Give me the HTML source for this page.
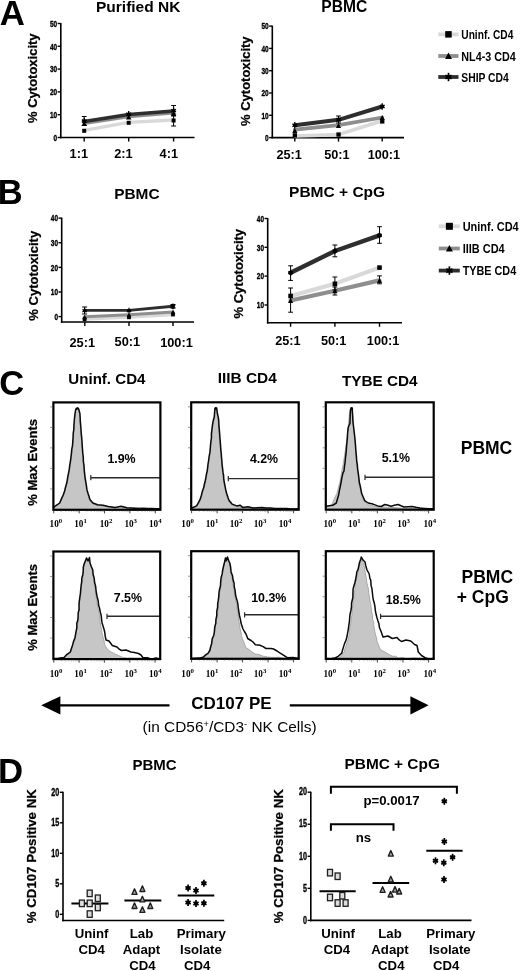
<!DOCTYPE html>
<html><head><meta charset="utf-8"><title>Figure</title>
<style>html,body{margin:0;padding:0;background:#fff;}svg{display:block;filter:grayscale(1);}</style></head>
<body>
<svg width="520" height="971" viewBox="0 0 520 971">
<rect x="0" y="0" width="520" height="971" fill="#ffffff"/>
<text x="-0.3" y="25.4" font-family='"Liberation Sans", sans-serif' font-size="34.8" font-weight="bold" text-anchor="start" fill="#000" >A</text>
<text x="138.2" y="12.1" font-family='"Liberation Sans", sans-serif' font-size="15.5" font-weight="bold" text-anchor="middle" fill="#000" >Purified NK</text>
<text transform="translate(36.7,78.2) rotate(-90)" x="0" y="0" font-family='"Liberation Sans", sans-serif' font-size="13" font-weight="bold" text-anchor="middle" fill="#000" stroke="#000" stroke-width="0.25">% Cytotoxicity</text>
<line x1="60.8" y1="23.0" x2="60.8" y2="138.25" stroke="#000" stroke-width="1.6" stroke-linecap="butt"/>
<line x1="60.0" y1="137.5" x2="194.5" y2="137.5" stroke="#000" stroke-width="1.6" stroke-linecap="butt"/>
<line x1="57.599999999999994" y1="137.5" x2="60.8" y2="137.5" stroke="#000" stroke-width="1.4" stroke-linecap="butt"/>
<text x="57.099999999999994" y="140.7" font-family='"Liberation Sans", sans-serif' font-size="9" font-weight="bold" text-anchor="end" fill="#000" textLength="3.6" lengthAdjust="spacingAndGlyphs" stroke="#000" stroke-width="0.35">0</text>
<line x1="57.599999999999994" y1="114.7" x2="60.8" y2="114.7" stroke="#000" stroke-width="1.4" stroke-linecap="butt"/>
<text x="57.099999999999994" y="117.9" font-family='"Liberation Sans", sans-serif' font-size="9" font-weight="bold" text-anchor="end" fill="#000" textLength="7.2" lengthAdjust="spacingAndGlyphs" stroke="#000" stroke-width="0.35">10</text>
<line x1="57.599999999999994" y1="91.9" x2="60.8" y2="91.9" stroke="#000" stroke-width="1.4" stroke-linecap="butt"/>
<text x="57.099999999999994" y="95.10000000000001" font-family='"Liberation Sans", sans-serif' font-size="9" font-weight="bold" text-anchor="end" fill="#000" textLength="7.2" lengthAdjust="spacingAndGlyphs" stroke="#000" stroke-width="0.35">20</text>
<line x1="57.599999999999994" y1="69.1" x2="60.8" y2="69.1" stroke="#000" stroke-width="1.4" stroke-linecap="butt"/>
<text x="57.099999999999994" y="72.3" font-family='"Liberation Sans", sans-serif' font-size="9" font-weight="bold" text-anchor="end" fill="#000" textLength="7.2" lengthAdjust="spacingAndGlyphs" stroke="#000" stroke-width="0.35">30</text>
<line x1="57.599999999999994" y1="46.3" x2="60.8" y2="46.3" stroke="#000" stroke-width="1.4" stroke-linecap="butt"/>
<text x="57.099999999999994" y="49.5" font-family='"Liberation Sans", sans-serif' font-size="9" font-weight="bold" text-anchor="end" fill="#000" textLength="7.2" lengthAdjust="spacingAndGlyphs" stroke="#000" stroke-width="0.35">40</text>
<line x1="57.599999999999994" y1="23.5" x2="60.8" y2="23.5" stroke="#000" stroke-width="1.4" stroke-linecap="butt"/>
<text x="57.099999999999994" y="26.7" font-family='"Liberation Sans", sans-serif' font-size="9" font-weight="bold" text-anchor="end" fill="#000" textLength="7.2" lengthAdjust="spacingAndGlyphs" stroke="#000" stroke-width="0.35">50</text>
<line x1="84.2" y1="137.5" x2="84.2" y2="141.5" stroke="#000" stroke-width="1.4" stroke-linecap="butt"/>
<text x="78.8" y="157.5" font-family='"Liberation Sans", sans-serif' font-size="12.8" font-weight="bold" text-anchor="middle" fill="#000" >1:1</text>
<line x1="128.7" y1="137.5" x2="128.7" y2="141.5" stroke="#000" stroke-width="1.4" stroke-linecap="butt"/>
<text x="123.4" y="157.5" font-family='"Liberation Sans", sans-serif' font-size="12.8" font-weight="bold" text-anchor="middle" fill="#000" >2:1</text>
<line x1="173.6" y1="137.5" x2="173.6" y2="141.5" stroke="#000" stroke-width="1.4" stroke-linecap="butt"/>
<text x="168.8" y="157.5" font-family='"Liberation Sans", sans-serif' font-size="12.8" font-weight="bold" text-anchor="middle" fill="#000" >4:1</text>
<polyline points="84.2,130.3 128.7,122.3 173.6,120.0" fill="none" stroke="#d9d9d9" stroke-width="3.3" stroke-linejoin="round" stroke-linecap="round"/>
<polyline points="84.2,123.2 128.7,116.6 173.6,112.9" fill="none" stroke="#8e8e8e" stroke-width="3.4" stroke-linejoin="round" stroke-linecap="round"/>
<polyline points="84.2,121.4 128.7,114.6 173.6,111.0" fill="none" stroke="#2e2e2e" stroke-width="3.5" stroke-linejoin="round" stroke-linecap="round"/>
<line x1="84.2" y1="116.5" x2="84.2" y2="125.5" stroke="#000" stroke-width="1" stroke-linecap="butt"/>
<line x1="81.8" y1="116.5" x2="86.60000000000001" y2="116.5" stroke="#000" stroke-width="1" stroke-linecap="butt"/>
<line x1="81.8" y1="125.5" x2="86.60000000000001" y2="125.5" stroke="#000" stroke-width="1" stroke-linecap="butt"/>
<line x1="173.6" y1="105.5" x2="173.6" y2="116" stroke="#000" stroke-width="1" stroke-linecap="butt"/>
<line x1="171.2" y1="105.5" x2="176.0" y2="105.5" stroke="#000" stroke-width="1" stroke-linecap="butt"/>
<line x1="171.2" y1="116" x2="176.0" y2="116" stroke="#000" stroke-width="1" stroke-linecap="butt"/>
<line x1="173.6" y1="114" x2="173.6" y2="126" stroke="#000" stroke-width="1" stroke-linecap="butt"/>
<line x1="171.1" y1="114" x2="176.1" y2="114" stroke="#000" stroke-width="1" stroke-linecap="butt"/>
<line x1="171.1" y1="126" x2="176.1" y2="126" stroke="#000" stroke-width="1" stroke-linecap="butt"/>
<rect x="82.2" y="128.8" width="4.0" height="4.0" fill="#000" stroke="none" stroke-width="0"/>
<rect x="126.7" y="120.8" width="4.0" height="4.0" fill="#000" stroke="none" stroke-width="0"/>
<rect x="171.6" y="118.5" width="4.0" height="4.0" fill="#000" stroke="none" stroke-width="0"/>
<polygon points="84.2,120.9 87.0,126.1 81.5,126.1" fill="#000" stroke="none" stroke-width="0" stroke-linejoin="miter"/>
<polygon points="128.7,114.4 131.4,119.6 125.9,119.6" fill="#000" stroke="none" stroke-width="0" stroke-linejoin="miter"/>
<polygon points="173.6,110.9 176.3,116.1 170.8,116.1" fill="#000" stroke="none" stroke-width="0" stroke-linejoin="miter"/>
<circle cx="84.2" cy="121.0" r="1.6" fill="#000"/>
<line x1="84.2" y1="117.7" x2="84.2" y2="124.3" stroke="#000" stroke-width="1.3" stroke-linecap="butt"/>
<line x1="81.8" y1="119.6" x2="86.6" y2="122.4" stroke="#000" stroke-width="1.3" stroke-linecap="butt"/>
<line x1="86.6" y1="119.6" x2="81.8" y2="122.4" stroke="#000" stroke-width="1.3" stroke-linecap="butt"/>
<circle cx="128.7" cy="114.2" r="1.6" fill="#000"/>
<line x1="128.7" y1="110.9" x2="128.7" y2="117.5" stroke="#000" stroke-width="1.3" stroke-linecap="butt"/>
<line x1="126.3" y1="112.8" x2="131.1" y2="115.6" stroke="#000" stroke-width="1.3" stroke-linecap="butt"/>
<line x1="131.1" y1="112.8" x2="126.3" y2="115.6" stroke="#000" stroke-width="1.3" stroke-linecap="butt"/>
<circle cx="173.6" cy="110.6" r="1.6" fill="#000"/>
<line x1="173.6" y1="107.3" x2="173.6" y2="113.9" stroke="#000" stroke-width="1.3" stroke-linecap="butt"/>
<line x1="171.2" y1="109.2" x2="176.0" y2="112.0" stroke="#000" stroke-width="1.3" stroke-linecap="butt"/>
<line x1="176.0" y1="109.2" x2="171.2" y2="112.0" stroke="#000" stroke-width="1.3" stroke-linecap="butt"/>
<text x="344.3" y="12.1" font-family='"Liberation Sans", sans-serif' font-size="15.6" font-weight="bold" text-anchor="middle" fill="#000" >PBMC</text>
<text transform="translate(250.4,81.2) rotate(-90)" x="0" y="0" font-family='"Liberation Sans", sans-serif' font-size="13" font-weight="bold" text-anchor="middle" fill="#000" stroke="#000" stroke-width="0.25">% Cytotoxicity</text>
<line x1="272.3" y1="25.599999999999994" x2="272.3" y2="138.35" stroke="#000" stroke-width="1.6" stroke-linecap="butt"/>
<line x1="271.5" y1="137.6" x2="404" y2="137.6" stroke="#000" stroke-width="1.6" stroke-linecap="butt"/>
<line x1="269.1" y1="137.6" x2="272.3" y2="137.6" stroke="#000" stroke-width="1.4" stroke-linecap="butt"/>
<text x="268.6" y="140.79999999999998" font-family='"Liberation Sans", sans-serif' font-size="9" font-weight="bold" text-anchor="end" fill="#000" textLength="3.6" lengthAdjust="spacingAndGlyphs" stroke="#000" stroke-width="0.35">0</text>
<line x1="269.1" y1="115.3" x2="272.3" y2="115.3" stroke="#000" stroke-width="1.4" stroke-linecap="butt"/>
<text x="268.6" y="118.5" font-family='"Liberation Sans", sans-serif' font-size="9" font-weight="bold" text-anchor="end" fill="#000" textLength="7.2" lengthAdjust="spacingAndGlyphs" stroke="#000" stroke-width="0.35">10</text>
<line x1="269.1" y1="93.0" x2="272.3" y2="93.0" stroke="#000" stroke-width="1.4" stroke-linecap="butt"/>
<text x="268.6" y="96.2" font-family='"Liberation Sans", sans-serif' font-size="9" font-weight="bold" text-anchor="end" fill="#000" textLength="7.2" lengthAdjust="spacingAndGlyphs" stroke="#000" stroke-width="0.35">20</text>
<line x1="269.1" y1="70.69999999999999" x2="272.3" y2="70.69999999999999" stroke="#000" stroke-width="1.4" stroke-linecap="butt"/>
<text x="268.6" y="73.89999999999999" font-family='"Liberation Sans", sans-serif' font-size="9" font-weight="bold" text-anchor="end" fill="#000" textLength="7.2" lengthAdjust="spacingAndGlyphs" stroke="#000" stroke-width="0.35">30</text>
<line x1="269.1" y1="48.39999999999999" x2="272.3" y2="48.39999999999999" stroke="#000" stroke-width="1.4" stroke-linecap="butt"/>
<text x="268.6" y="51.599999999999994" font-family='"Liberation Sans", sans-serif' font-size="9" font-weight="bold" text-anchor="end" fill="#000" textLength="7.2" lengthAdjust="spacingAndGlyphs" stroke="#000" stroke-width="0.35">40</text>
<line x1="269.1" y1="26.099999999999994" x2="272.3" y2="26.099999999999994" stroke="#000" stroke-width="1.4" stroke-linecap="butt"/>
<text x="268.6" y="29.299999999999994" font-family='"Liberation Sans", sans-serif' font-size="9" font-weight="bold" text-anchor="end" fill="#000" textLength="7.2" lengthAdjust="spacingAndGlyphs" stroke="#000" stroke-width="0.35">50</text>
<line x1="294.8" y1="137.6" x2="294.8" y2="141.6" stroke="#000" stroke-width="1.4" stroke-linecap="butt"/>
<text x="289.2" y="158.5" font-family='"Liberation Sans", sans-serif' font-size="12.7" font-weight="bold" text-anchor="middle" fill="#000" >25:1</text>
<line x1="338.5" y1="137.6" x2="338.5" y2="141.6" stroke="#000" stroke-width="1.4" stroke-linecap="butt"/>
<text x="336.9" y="158.5" font-family='"Liberation Sans", sans-serif' font-size="12.7" font-weight="bold" text-anchor="middle" fill="#000" >50:1</text>
<line x1="382.2" y1="137.6" x2="382.2" y2="141.6" stroke="#000" stroke-width="1.4" stroke-linecap="butt"/>
<text x="383.9" y="158.5" font-family='"Liberation Sans", sans-serif' font-size="12.7" font-weight="bold" text-anchor="middle" fill="#000" >100:1</text>
<polyline points="294.8,136.0 338.5,134.6 382.2,120.8" fill="none" stroke="#d9d9d9" stroke-width="3.6" stroke-linejoin="round" stroke-linecap="round"/>
<polyline points="294.8,129.6 338.5,125.2 382.2,117.5" fill="none" stroke="#8e8e8e" stroke-width="3.8" stroke-linejoin="round" stroke-linecap="round"/>
<polyline points="294.8,125.3 338.5,119.8 382.2,106.5" fill="none" stroke="#2e2e2e" stroke-width="4" stroke-linejoin="round" stroke-linecap="round"/>
<line x1="338.5" y1="116" x2="338.5" y2="123" stroke="#000" stroke-width="1" stroke-linecap="butt"/>
<line x1="336.1" y1="116" x2="340.9" y2="116" stroke="#000" stroke-width="1" stroke-linecap="butt"/>
<line x1="336.1" y1="123" x2="340.9" y2="123" stroke="#000" stroke-width="1" stroke-linecap="butt"/>
<rect x="292.7" y="133.2" width="4.3" height="4.3" fill="#000" stroke="none" stroke-width="0"/>
<rect x="336.4" y="132.4" width="4.3" height="4.3" fill="#000" stroke="none" stroke-width="0"/>
<rect x="380.1" y="119.3" width="4.3" height="4.3" fill="#000" stroke="none" stroke-width="0"/>
<polygon points="294.8,128.0 297.4,133.0 292.2,133.0" fill="#000" stroke="none" stroke-width="0" stroke-linejoin="miter"/>
<polygon points="338.5,123.0 341.1,128.0 335.9,128.0" fill="#000" stroke="none" stroke-width="0" stroke-linejoin="miter"/>
<polygon points="382.2,115.0 384.8,120.0 379.6,120.0" fill="#000" stroke="none" stroke-width="0" stroke-linejoin="miter"/>
<circle cx="294.8" cy="125.3" r="1.6" fill="#000"/>
<line x1="294.8" y1="122.0" x2="294.8" y2="128.6" stroke="#000" stroke-width="1.3" stroke-linecap="butt"/>
<line x1="292.4" y1="123.9" x2="297.2" y2="126.7" stroke="#000" stroke-width="1.3" stroke-linecap="butt"/>
<line x1="297.2" y1="123.9" x2="292.4" y2="126.7" stroke="#000" stroke-width="1.3" stroke-linecap="butt"/>
<circle cx="338.5" cy="119.8" r="1.6" fill="#000"/>
<line x1="338.5" y1="116.5" x2="338.5" y2="123.1" stroke="#000" stroke-width="1.3" stroke-linecap="butt"/>
<line x1="336.1" y1="118.4" x2="340.9" y2="121.2" stroke="#000" stroke-width="1.3" stroke-linecap="butt"/>
<line x1="340.9" y1="118.4" x2="336.1" y2="121.2" stroke="#000" stroke-width="1.3" stroke-linecap="butt"/>
<circle cx="382.2" cy="106.5" r="1.6" fill="#000"/>
<line x1="382.2" y1="103.2" x2="382.2" y2="109.8" stroke="#000" stroke-width="1.3" stroke-linecap="butt"/>
<line x1="379.8" y1="105.1" x2="384.6" y2="107.9" stroke="#000" stroke-width="1.3" stroke-linecap="butt"/>
<line x1="384.6" y1="105.1" x2="379.8" y2="107.9" stroke="#000" stroke-width="1.3" stroke-linecap="butt"/>
<line x1="438.3" y1="34.4" x2="458.5" y2="34.4" stroke="#d9d9d9" stroke-width="3.8" stroke-linecap="butt"/>
<rect x="445.2" y="31.1" width="6.5" height="6.5" fill="#000" stroke="none" stroke-width="0"/>
<text x="461.3" y="39.4" font-family='"Liberation Sans", sans-serif' font-size="12" font-weight="bold" text-anchor="start" fill="#000" textLength="52" lengthAdjust="spacingAndGlyphs" >Uninf. CD4</text>
<line x1="438.3" y1="56" x2="458.5" y2="56" stroke="#8e8e8e" stroke-width="3.8" stroke-linecap="butt"/>
<polygon points="448.5,52.4 452.0,59.0 445.0,59.0" fill="#000" stroke="none" stroke-width="0" stroke-linejoin="miter"/>
<text x="461.3" y="61" font-family='"Liberation Sans", sans-serif' font-size="12" font-weight="bold" text-anchor="start" fill="#000" textLength="54.5" lengthAdjust="spacingAndGlyphs" >NL4-3 CD4</text>
<line x1="438.3" y1="77" x2="458.5" y2="77" stroke="#2e2e2e" stroke-width="3.8" stroke-linecap="butt"/>
<circle cx="448.5" cy="77.0" r="2.2" fill="#000"/>
<line x1="448.5" y1="72.8" x2="448.5" y2="81.2" stroke="#000" stroke-width="1.7" stroke-linecap="butt"/>
<line x1="445.4" y1="75.2" x2="451.6" y2="78.8" stroke="#000" stroke-width="1.7" stroke-linecap="butt"/>
<line x1="451.6" y1="75.2" x2="445.4" y2="78.8" stroke="#000" stroke-width="1.7" stroke-linecap="butt"/>
<text x="461.3" y="81.7" font-family='"Liberation Sans", sans-serif' font-size="12" font-weight="bold" text-anchor="start" fill="#000" textLength="47.5" lengthAdjust="spacingAndGlyphs" >SHIP CD4</text>
<text x="-2.2" y="204.4" font-family='"Liberation Sans", sans-serif' font-size="34.5" font-weight="bold" text-anchor="start" fill="#000" >B</text>
<text x="136.9" y="199.3" font-family='"Liberation Sans", sans-serif' font-size="15.4" font-weight="bold" text-anchor="middle" fill="#000" >PBMC</text>
<text transform="translate(38,275.8) rotate(-90)" x="0" y="0" font-family='"Liberation Sans", sans-serif' font-size="13.05" font-weight="bold" text-anchor="middle" fill="#000" stroke="#000" stroke-width="0.25">% Cytotoxicity</text>
<line x1="61.7" y1="217.62" x2="61.7" y2="322.75" stroke="#000" stroke-width="1.6" stroke-linecap="butt"/>
<line x1="60.900000000000006" y1="322" x2="194" y2="322" stroke="#000" stroke-width="1.6" stroke-linecap="butt"/>
<line x1="58.5" y1="316.6" x2="61.7" y2="316.6" stroke="#000" stroke-width="1.4" stroke-linecap="butt"/>
<text x="58.0" y="319.8" font-family='"Liberation Sans", sans-serif' font-size="9" font-weight="bold" text-anchor="end" fill="#000" textLength="3.6" lengthAdjust="spacingAndGlyphs" stroke="#000" stroke-width="0.35">0</text>
<line x1="58.5" y1="291.98" x2="61.7" y2="291.98" stroke="#000" stroke-width="1.4" stroke-linecap="butt"/>
<text x="58.0" y="295.18" font-family='"Liberation Sans", sans-serif' font-size="9" font-weight="bold" text-anchor="end" fill="#000" textLength="7.2" lengthAdjust="spacingAndGlyphs" stroke="#000" stroke-width="0.35">10</text>
<line x1="58.5" y1="267.36" x2="61.7" y2="267.36" stroke="#000" stroke-width="1.4" stroke-linecap="butt"/>
<text x="58.0" y="270.56" font-family='"Liberation Sans", sans-serif' font-size="9" font-weight="bold" text-anchor="end" fill="#000" textLength="7.2" lengthAdjust="spacingAndGlyphs" stroke="#000" stroke-width="0.35">20</text>
<line x1="58.5" y1="242.74" x2="61.7" y2="242.74" stroke="#000" stroke-width="1.4" stroke-linecap="butt"/>
<text x="58.0" y="245.94" font-family='"Liberation Sans", sans-serif' font-size="9" font-weight="bold" text-anchor="end" fill="#000" textLength="7.2" lengthAdjust="spacingAndGlyphs" stroke="#000" stroke-width="0.35">30</text>
<line x1="58.5" y1="218.12" x2="61.7" y2="218.12" stroke="#000" stroke-width="1.4" stroke-linecap="butt"/>
<text x="58.0" y="221.32" font-family='"Liberation Sans", sans-serif' font-size="9" font-weight="bold" text-anchor="end" fill="#000" textLength="7.2" lengthAdjust="spacingAndGlyphs" stroke="#000" stroke-width="0.35">40</text>
<line x1="84.8" y1="322" x2="84.8" y2="326" stroke="#000" stroke-width="1.4" stroke-linecap="butt"/>
<text x="82.3" y="346.6" font-family='"Liberation Sans", sans-serif' font-size="12.8" font-weight="bold" text-anchor="middle" fill="#000" >25:1</text>
<line x1="129" y1="322" x2="129" y2="326" stroke="#000" stroke-width="1.4" stroke-linecap="butt"/>
<text x="127.4" y="346.0" font-family='"Liberation Sans", sans-serif' font-size="12.8" font-weight="bold" text-anchor="middle" fill="#000" >50:1</text>
<line x1="173" y1="322" x2="173" y2="326" stroke="#000" stroke-width="1.4" stroke-linecap="butt"/>
<text x="176.5" y="346.6" font-family='"Liberation Sans", sans-serif' font-size="12.8" font-weight="bold" text-anchor="middle" fill="#000" >100:1</text>
<polyline points="84.6,319.0 129.0,317.0 173.0,314.5" fill="none" stroke="#d9d9d9" stroke-width="3.5" stroke-linejoin="round" stroke-linecap="round"/>
<polyline points="84.6,316.8 129.0,314.8 173.0,312.0" fill="none" stroke="#8e8e8e" stroke-width="3" stroke-linejoin="round" stroke-linecap="round"/>
<polyline points="84.6,310.4 129.0,310.4 173.0,306.2" fill="none" stroke="#2e2e2e" stroke-width="2.9" stroke-linejoin="round" stroke-linecap="round"/>
<line x1="84.6" y1="307" x2="84.6" y2="314" stroke="#000" stroke-width="1" stroke-linecap="butt"/>
<line x1="82.1" y1="307" x2="87.1" y2="307" stroke="#000" stroke-width="1" stroke-linecap="butt"/>
<line x1="82.1" y1="314" x2="87.1" y2="314" stroke="#000" stroke-width="1" stroke-linecap="butt"/>
<line x1="173" y1="304.5" x2="173" y2="308.2" stroke="#000" stroke-width="1" stroke-linecap="butt"/>
<line x1="170.5" y1="304.5" x2="175.5" y2="304.5" stroke="#000" stroke-width="1" stroke-linecap="butt"/>
<line x1="170.5" y1="308.2" x2="175.5" y2="308.2" stroke="#000" stroke-width="1" stroke-linecap="butt"/>
<rect x="82.7" y="317.4" width="3.8" height="3.8" fill="#000" stroke="none" stroke-width="0"/>
<rect x="127.1" y="315.4" width="3.8" height="3.8" fill="#000" stroke="none" stroke-width="0"/>
<rect x="171.1" y="312.6" width="3.8" height="3.8" fill="#000" stroke="none" stroke-width="0"/>
<polygon points="84.6,314.7 87.0,319.3 82.2,319.3" fill="#000" stroke="none" stroke-width="0" stroke-linejoin="miter"/>
<polygon points="129.0,312.7 131.4,317.3 126.6,317.3" fill="#000" stroke="none" stroke-width="0" stroke-linejoin="miter"/>
<polygon points="173.0,309.7 175.4,314.3 170.6,314.3" fill="#000" stroke="none" stroke-width="0" stroke-linejoin="miter"/>
<circle cx="84.6" cy="310.6" r="1.5" fill="#000"/>
<line x1="84.6" y1="307.7" x2="84.6" y2="313.6" stroke="#000" stroke-width="1.2" stroke-linecap="butt"/>
<line x1="82.4" y1="309.4" x2="86.8" y2="311.9" stroke="#000" stroke-width="1.2" stroke-linecap="butt"/>
<line x1="86.8" y1="309.4" x2="82.4" y2="311.9" stroke="#000" stroke-width="1.2" stroke-linecap="butt"/>
<circle cx="129.0" cy="310.6" r="1.5" fill="#000"/>
<line x1="129.0" y1="307.7" x2="129.0" y2="313.6" stroke="#000" stroke-width="1.2" stroke-linecap="butt"/>
<line x1="126.8" y1="309.4" x2="131.2" y2="311.9" stroke="#000" stroke-width="1.2" stroke-linecap="butt"/>
<line x1="131.2" y1="309.4" x2="126.8" y2="311.9" stroke="#000" stroke-width="1.2" stroke-linecap="butt"/>
<circle cx="173.0" cy="306.3" r="1.5" fill="#000"/>
<line x1="173.0" y1="303.4" x2="173.0" y2="309.2" stroke="#000" stroke-width="1.2" stroke-linecap="butt"/>
<line x1="170.8" y1="305.1" x2="175.2" y2="307.6" stroke="#000" stroke-width="1.2" stroke-linecap="butt"/>
<line x1="175.2" y1="305.1" x2="170.8" y2="307.6" stroke="#000" stroke-width="1.2" stroke-linecap="butt"/>
<text x="337.1" y="197.0" font-family='"Liberation Sans", sans-serif' font-size="15.5" font-weight="bold" text-anchor="middle" fill="#000" >PBMC + CpG</text>
<text transform="translate(243.3,273.7) rotate(-90)" x="0" y="0" font-family='"Liberation Sans", sans-serif' font-size="13.0" font-weight="bold" text-anchor="middle" fill="#000" stroke="#000" stroke-width="0.25">% Cytotoxicity</text>
<line x1="267.7" y1="218.0" x2="267.7" y2="323.55" stroke="#000" stroke-width="1.6" stroke-linecap="butt"/>
<line x1="266.9" y1="322.8" x2="402" y2="322.8" stroke="#000" stroke-width="1.6" stroke-linecap="butt"/>
<line x1="264.5" y1="305" x2="267.7" y2="305" stroke="#000" stroke-width="1.4" stroke-linecap="butt"/>
<text x="264.0" y="308.2" font-family='"Liberation Sans", sans-serif' font-size="9" font-weight="bold" text-anchor="end" fill="#000" textLength="7.2" lengthAdjust="spacingAndGlyphs" stroke="#000" stroke-width="0.35">10</text>
<line x1="264.5" y1="276.1" x2="267.7" y2="276.1" stroke="#000" stroke-width="1.4" stroke-linecap="butt"/>
<text x="264.0" y="279.3" font-family='"Liberation Sans", sans-serif' font-size="9" font-weight="bold" text-anchor="end" fill="#000" textLength="7.2" lengthAdjust="spacingAndGlyphs" stroke="#000" stroke-width="0.35">20</text>
<line x1="264.5" y1="247.3" x2="267.7" y2="247.3" stroke="#000" stroke-width="1.4" stroke-linecap="butt"/>
<text x="264.0" y="250.5" font-family='"Liberation Sans", sans-serif' font-size="9" font-weight="bold" text-anchor="end" fill="#000" textLength="7.2" lengthAdjust="spacingAndGlyphs" stroke="#000" stroke-width="0.35">30</text>
<line x1="264.5" y1="218.5" x2="267.7" y2="218.5" stroke="#000" stroke-width="1.4" stroke-linecap="butt"/>
<text x="264.0" y="221.7" font-family='"Liberation Sans", sans-serif' font-size="9" font-weight="bold" text-anchor="end" fill="#000" textLength="7.2" lengthAdjust="spacingAndGlyphs" stroke="#000" stroke-width="0.35">40</text>
<line x1="290.6" y1="322.8" x2="290.6" y2="326.8" stroke="#000" stroke-width="1.4" stroke-linecap="butt"/>
<text x="287.9" y="345.4" font-family='"Liberation Sans", sans-serif' font-size="12.7" font-weight="bold" text-anchor="middle" fill="#000" >25:1</text>
<line x1="334.9" y1="322.8" x2="334.9" y2="326.8" stroke="#000" stroke-width="1.4" stroke-linecap="butt"/>
<text x="333.7" y="345.4" font-family='"Liberation Sans", sans-serif' font-size="12.7" font-weight="bold" text-anchor="middle" fill="#000" >50:1</text>
<line x1="379.5" y1="322.8" x2="379.5" y2="326.8" stroke="#000" stroke-width="1.4" stroke-linecap="butt"/>
<text x="383.1" y="345.4" font-family='"Liberation Sans", sans-serif' font-size="12.7" font-weight="bold" text-anchor="middle" fill="#000" >100:1</text>
<polyline points="290.6,296.0 334.9,283.8 379.5,267.6" fill="none" stroke="#d9d9d9" stroke-width="4.2" stroke-linejoin="round" stroke-linecap="round"/>
<polyline points="290.6,300.5 334.9,290.8 379.5,280.4" fill="none" stroke="#8e8e8e" stroke-width="4.2" stroke-linejoin="round" stroke-linecap="round"/>
<polyline points="290.6,272.8 334.9,251.0 379.5,235.4" fill="none" stroke="#2e2e2e" stroke-width="4.4" stroke-linejoin="round" stroke-linecap="round"/>
<line x1="290.6" y1="265.8" x2="290.6" y2="280.4" stroke="#000" stroke-width="1" stroke-linecap="butt"/>
<line x1="288.20000000000005" y1="265.8" x2="293.0" y2="265.8" stroke="#000" stroke-width="1" stroke-linecap="butt"/>
<line x1="288.20000000000005" y1="280.4" x2="293.0" y2="280.4" stroke="#000" stroke-width="1" stroke-linecap="butt"/>
<line x1="334.9" y1="245" x2="334.9" y2="256.8" stroke="#000" stroke-width="1" stroke-linecap="butt"/>
<line x1="332.5" y1="245" x2="337.29999999999995" y2="245" stroke="#000" stroke-width="1" stroke-linecap="butt"/>
<line x1="332.5" y1="256.8" x2="337.29999999999995" y2="256.8" stroke="#000" stroke-width="1" stroke-linecap="butt"/>
<line x1="379.5" y1="226.7" x2="379.5" y2="243.3" stroke="#000" stroke-width="1" stroke-linecap="butt"/>
<line x1="377.1" y1="226.7" x2="381.9" y2="226.7" stroke="#000" stroke-width="1" stroke-linecap="butt"/>
<line x1="377.1" y1="243.3" x2="381.9" y2="243.3" stroke="#000" stroke-width="1" stroke-linecap="butt"/>
<line x1="334.9" y1="277" x2="334.9" y2="290" stroke="#000" stroke-width="1" stroke-linecap="butt"/>
<line x1="332.5" y1="277" x2="337.29999999999995" y2="277" stroke="#000" stroke-width="1" stroke-linecap="butt"/>
<line x1="332.5" y1="290" x2="337.29999999999995" y2="290" stroke="#000" stroke-width="1" stroke-linecap="butt"/>
<line x1="290.6" y1="288" x2="290.6" y2="312.2" stroke="#000" stroke-width="1" stroke-linecap="butt"/>
<line x1="288.20000000000005" y1="288" x2="293.0" y2="288" stroke="#000" stroke-width="1" stroke-linecap="butt"/>
<line x1="288.20000000000005" y1="312.2" x2="293.0" y2="312.2" stroke="#000" stroke-width="1" stroke-linecap="butt"/>
<line x1="334.9" y1="287" x2="334.9" y2="295" stroke="#000" stroke-width="1" stroke-linecap="butt"/>
<line x1="332.5" y1="287" x2="337.29999999999995" y2="287" stroke="#000" stroke-width="1" stroke-linecap="butt"/>
<line x1="332.5" y1="295" x2="337.29999999999995" y2="295" stroke="#000" stroke-width="1" stroke-linecap="butt"/>
<line x1="379.5" y1="275.9" x2="379.5" y2="283.8" stroke="#000" stroke-width="1" stroke-linecap="butt"/>
<line x1="377.1" y1="275.9" x2="381.9" y2="275.9" stroke="#000" stroke-width="1" stroke-linecap="butt"/>
<line x1="377.1" y1="283.8" x2="381.9" y2="283.8" stroke="#000" stroke-width="1" stroke-linecap="butt"/>
<rect x="288.3" y="293.7" width="4.6" height="4.6" fill="#000" stroke="none" stroke-width="0"/>
<rect x="332.6" y="281.5" width="4.6" height="4.6" fill="#000" stroke="none" stroke-width="0"/>
<rect x="377.2" y="265.3" width="4.6" height="4.6" fill="#000" stroke="none" stroke-width="0"/>
<polygon points="290.6,298.0 293.2,303.0 288.0,303.0" fill="#000" stroke="none" stroke-width="0" stroke-linejoin="miter"/>
<polygon points="334.9,288.3 337.5,293.3 332.3,293.3" fill="#000" stroke="none" stroke-width="0" stroke-linejoin="miter"/>
<polygon points="379.5,277.9 382.1,282.9 376.9,282.9" fill="#000" stroke="none" stroke-width="0" stroke-linejoin="miter"/>
<circle cx="290.6" cy="272.8" r="2.1" fill="#000"/>
<line x1="290.6" y1="269.7" x2="290.6" y2="275.9" stroke="#000" stroke-width="1.2" stroke-linecap="butt"/>
<line x1="288.3" y1="271.5" x2="292.9" y2="274.1" stroke="#000" stroke-width="1.2" stroke-linecap="butt"/>
<line x1="292.9" y1="271.5" x2="288.3" y2="274.1" stroke="#000" stroke-width="1.2" stroke-linecap="butt"/>
<circle cx="334.9" cy="251.0" r="2.1" fill="#000"/>
<line x1="334.9" y1="247.9" x2="334.9" y2="254.1" stroke="#000" stroke-width="1.2" stroke-linecap="butt"/>
<line x1="332.6" y1="249.7" x2="337.2" y2="252.3" stroke="#000" stroke-width="1.2" stroke-linecap="butt"/>
<line x1="337.2" y1="249.7" x2="332.6" y2="252.3" stroke="#000" stroke-width="1.2" stroke-linecap="butt"/>
<circle cx="379.5" cy="235.4" r="2.1" fill="#000"/>
<line x1="379.5" y1="232.3" x2="379.5" y2="238.5" stroke="#000" stroke-width="1.2" stroke-linecap="butt"/>
<line x1="377.2" y1="234.1" x2="381.8" y2="236.7" stroke="#000" stroke-width="1.2" stroke-linecap="butt"/>
<line x1="381.8" y1="234.1" x2="377.2" y2="236.7" stroke="#000" stroke-width="1.2" stroke-linecap="butt"/>
<line x1="438.8" y1="226.3" x2="459.8" y2="226.3" stroke="#d9d9d9" stroke-width="3.8" stroke-linecap="butt"/>
<rect x="445.9" y="222.8" width="7" height="7" fill="#000" stroke="none" stroke-width="0"/>
<text x="462.7" y="231" font-family='"Liberation Sans", sans-serif' font-size="12.5" font-weight="bold" text-anchor="start" fill="#000" textLength="56" lengthAdjust="spacingAndGlyphs" >Uninf. CD4</text>
<line x1="438.8" y1="248.5" x2="459.8" y2="248.5" stroke="#8e8e8e" stroke-width="3.8" stroke-linecap="butt"/>
<polygon points="449.4,244.9 452.9,251.5 445.9,251.5" fill="#000" stroke="none" stroke-width="0" stroke-linejoin="miter"/>
<text x="462.7" y="252.9" font-family='"Liberation Sans", sans-serif' font-size="12.5" font-weight="bold" text-anchor="start" fill="#000" textLength="42" lengthAdjust="spacingAndGlyphs" >IIIB CD4</text>
<line x1="438.8" y1="270.6" x2="459.8" y2="270.6" stroke="#2e2e2e" stroke-width="3.8" stroke-linecap="butt"/>
<circle cx="449.4" cy="270.6" r="2.2" fill="#000"/>
<line x1="449.4" y1="266.4" x2="449.4" y2="274.8" stroke="#000" stroke-width="1.7" stroke-linecap="butt"/>
<line x1="446.3" y1="268.8" x2="452.5" y2="272.4" stroke="#000" stroke-width="1.7" stroke-linecap="butt"/>
<line x1="452.5" y1="268.8" x2="446.3" y2="272.4" stroke="#000" stroke-width="1.7" stroke-linecap="butt"/>
<text x="462.7" y="274.6" font-family='"Liberation Sans", sans-serif' font-size="12.5" font-weight="bold" text-anchor="start" fill="#000" textLength="53.5" lengthAdjust="spacingAndGlyphs" >TYBE CD4</text>
<text x="-0.8" y="394.8" font-family='"Liberation Sans", sans-serif' font-size="34.5" font-weight="bold" text-anchor="start" fill="#000" >C</text>
<text x="106.9" y="384.4" font-family='"Liberation Sans", sans-serif' font-size="15.1" font-weight="bold" text-anchor="middle" fill="#000" >Uninf. CD4</text>
<text x="247.3" y="383.4" font-family='"Liberation Sans", sans-serif' font-size="15.4" font-weight="bold" text-anchor="middle" fill="#000" >IIIB CD4</text>
<text x="379.8" y="385.6" font-family='"Liberation Sans", sans-serif' font-size="15.3" font-weight="bold" text-anchor="middle" fill="#000" >TYBE CD4</text>
<text transform="translate(37.4,462.3) rotate(-90)" x="0" y="0" font-family='"Liberation Sans", sans-serif' font-size="13" font-weight="bold" text-anchor="middle" fill="#000" stroke="#000" stroke-width="0.25">% Max Events</text>
<text transform="translate(37.4,607.3) rotate(-90)" x="0" y="0" font-family='"Liberation Sans", sans-serif' font-size="13" font-weight="bold" text-anchor="middle" fill="#000" stroke="#000" stroke-width="0.25">% Max Events</text>
<text x="486.5" y="454.4" font-family='"Liberation Sans", sans-serif' font-size="17.5" font-weight="bold" text-anchor="middle" fill="#000" >PBMC</text>
<text x="487.3" y="583.1" font-family='"Liberation Sans", sans-serif' font-size="17.5" font-weight="bold" text-anchor="middle" fill="#000" >PBMC</text>
<text x="482.8" y="603.1" font-family='"Liberation Sans", sans-serif' font-size="17.5" font-weight="bold" text-anchor="middle" fill="#000" >+ CpG</text>
<polygon points="53.4,509.8 53.4,507.6 56.7,505.5 60.2,503.4 61.4,500.6 62.7,497.5 63.9,494.9 64.9,491.1 66.1,486.8 67.3,483.0 68.0,479.5 68.6,475.9 69.1,472.2 69.7,469.1 70.2,465.5 70.8,461.8 71.3,457.5 71.8,453.8 72.1,449.4 72.7,445.6 73.1,441.6 73.4,437.9 73.7,434.0 73.9,430.1 74.2,426.2 74.6,421.9 74.8,418.2 75.3,414.0 76.0,410.2 77.2,408.4 78.4,409.5 79.5,414.0 79.9,418.0 80.1,421.9 80.3,425.9 80.6,430.0 80.9,434.0 81.2,438.1 81.6,442.0 81.9,446.0 82.1,449.5 82.4,453.6 82.9,457.9 83.2,461.7 83.5,465.6 83.9,469.8 84.2,473.8 84.7,477.7 85.4,482.3 85.8,486.3 86.5,490.3 87.4,493.3 88.3,496.8 89.3,499.8 92.3,503.5 97.0,505.3 100.8,505.6 104.4,506.2 108.0,507.0 112.1,507.1 116.1,507.7 120.0,507.9 123.9,507.6 128.0,508.0 132.1,507.9 136.0,508.2 140.2,508.1 144.1,508.7 148.2,508.8 152.4,508.6 156.3,508.8 160.4,508.9 160.4,509.8" fill="#c6c6c6" stroke="#9a9a9a" stroke-width="0.8" stroke-linejoin="round"/>
<polyline points="53.4,507.3 56.6,505.1 59.7,503.0 61.5,498.6 63.3,494.7 64.6,491.0 65.7,486.5 66.8,482.8 67.4,479.1 67.9,476.0 68.8,471.8 69.3,468.7 69.8,464.9 70.4,461.5 70.9,457.4 71.4,453.6 71.7,449.6 72.5,445.7 72.8,441.4 73.1,437.1 73.2,433.3 73.8,429.5 73.9,425.9 74.2,421.8 74.5,417.8 75.0,413.6 75.6,410.0 76.3,408.3 76.9,409.3 77.6,407.8 78.7,409.0 79.9,413.5 80.2,417.8 80.3,421.4 80.7,425.3 81.0,429.6 81.3,433.8 81.7,437.5 82.0,441.2 82.2,445.3 82.5,449.1 82.8,453.3 83.3,457.0 83.4,461.6 84.0,465.3 84.2,469.2 84.6,473.4 85.1,477.6 85.7,481.4 86.4,485.5 87.0,489.9 88.0,493.3 89.0,496.2 89.9,499.4 92.9,503.0 97.6,504.7 103.0,505.3 108.3,506.5 115.0,507.4 121.0,506.3 127.0,507.8 130.9,508.0 135.0,508.2 139.1,508.4 143.4,508.3 147.6,508.5 152.0,508.5 156.3,508.8 160.4,508.8" fill="none" stroke="#0a0a0a" stroke-width="1.5" stroke-linejoin="round" stroke-linecap="round"/>
<line x1="90.8" y1="477.7" x2="160.4" y2="477.7" stroke="#2a2a2a" stroke-width="1.4" stroke-linecap="butt"/>
<line x1="90.8" y1="475.09999999999997" x2="90.8" y2="480.3" stroke="#2a2a2a" stroke-width="1.2" stroke-linecap="butt"/>
<rect x="53.4" y="402.4" width="107.0" height="107.40000000000003" fill="none" stroke="#000" stroke-width="2.2"/>
<line x1="50.199999999999996" y1="406.9" x2="52.4" y2="406.9" stroke="#777" stroke-width="0.8" stroke-linecap="butt"/>
<line x1="50.199999999999996" y1="427.4" x2="52.4" y2="427.4" stroke="#777" stroke-width="0.8" stroke-linecap="butt"/>
<line x1="50.199999999999996" y1="447.9" x2="52.4" y2="447.9" stroke="#777" stroke-width="0.8" stroke-linecap="butt"/>
<line x1="50.199999999999996" y1="468.4" x2="52.4" y2="468.4" stroke="#777" stroke-width="0.8" stroke-linecap="butt"/>
<line x1="50.199999999999996" y1="488.9" x2="52.4" y2="488.9" stroke="#777" stroke-width="0.8" stroke-linecap="butt"/>
<line x1="53.8" y1="510.8" x2="53.8" y2="513.4" stroke="#333" stroke-width="0.9" stroke-linecap="butt"/>
<line x1="61.4" y1="510.8" x2="61.4" y2="512.1" stroke="#999" stroke-width="0.6" stroke-linecap="butt"/>
<line x1="65.9" y1="510.8" x2="65.9" y2="512.1" stroke="#999" stroke-width="0.6" stroke-linecap="butt"/>
<line x1="69.1" y1="510.8" x2="69.1" y2="512.1" stroke="#999" stroke-width="0.6" stroke-linecap="butt"/>
<line x1="71.5" y1="510.8" x2="71.5" y2="512.1" stroke="#999" stroke-width="0.6" stroke-linecap="butt"/>
<line x1="73.5" y1="510.8" x2="73.5" y2="512.1" stroke="#999" stroke-width="0.6" stroke-linecap="butt"/>
<line x1="75.2" y1="510.8" x2="75.2" y2="512.1" stroke="#999" stroke-width="0.6" stroke-linecap="butt"/>
<line x1="76.7" y1="510.8" x2="76.7" y2="512.1" stroke="#999" stroke-width="0.6" stroke-linecap="butt"/>
<line x1="78.0" y1="510.8" x2="78.0" y2="512.1" stroke="#999" stroke-width="0.6" stroke-linecap="butt"/>
<line x1="79.2" y1="510.8" x2="79.2" y2="513.4" stroke="#333" stroke-width="0.9" stroke-linecap="butt"/>
<line x1="86.8" y1="510.8" x2="86.8" y2="512.1" stroke="#999" stroke-width="0.6" stroke-linecap="butt"/>
<line x1="91.3" y1="510.8" x2="91.3" y2="512.1" stroke="#999" stroke-width="0.6" stroke-linecap="butt"/>
<line x1="94.5" y1="510.8" x2="94.5" y2="512.1" stroke="#999" stroke-width="0.6" stroke-linecap="butt"/>
<line x1="96.9" y1="510.8" x2="96.9" y2="512.1" stroke="#999" stroke-width="0.6" stroke-linecap="butt"/>
<line x1="98.9" y1="510.8" x2="98.9" y2="512.1" stroke="#999" stroke-width="0.6" stroke-linecap="butt"/>
<line x1="100.6" y1="510.8" x2="100.6" y2="512.1" stroke="#999" stroke-width="0.6" stroke-linecap="butt"/>
<line x1="102.1" y1="510.8" x2="102.1" y2="512.1" stroke="#999" stroke-width="0.6" stroke-linecap="butt"/>
<line x1="103.4" y1="510.8" x2="103.4" y2="512.1" stroke="#999" stroke-width="0.6" stroke-linecap="butt"/>
<line x1="104.5" y1="510.8" x2="104.5" y2="513.4" stroke="#333" stroke-width="0.9" stroke-linecap="butt"/>
<line x1="112.2" y1="510.8" x2="112.2" y2="512.1" stroke="#999" stroke-width="0.6" stroke-linecap="butt"/>
<line x1="116.7" y1="510.8" x2="116.7" y2="512.1" stroke="#999" stroke-width="0.6" stroke-linecap="butt"/>
<line x1="119.8" y1="510.8" x2="119.8" y2="512.1" stroke="#999" stroke-width="0.6" stroke-linecap="butt"/>
<line x1="122.3" y1="510.8" x2="122.3" y2="512.1" stroke="#999" stroke-width="0.6" stroke-linecap="butt"/>
<line x1="124.3" y1="510.8" x2="124.3" y2="512.1" stroke="#999" stroke-width="0.6" stroke-linecap="butt"/>
<line x1="126.0" y1="510.8" x2="126.0" y2="512.1" stroke="#999" stroke-width="0.6" stroke-linecap="butt"/>
<line x1="127.5" y1="510.8" x2="127.5" y2="512.1" stroke="#999" stroke-width="0.6" stroke-linecap="butt"/>
<line x1="128.8" y1="510.8" x2="128.8" y2="512.1" stroke="#999" stroke-width="0.6" stroke-linecap="butt"/>
<line x1="129.9" y1="510.8" x2="129.9" y2="513.4" stroke="#333" stroke-width="0.9" stroke-linecap="butt"/>
<line x1="137.6" y1="510.8" x2="137.6" y2="512.1" stroke="#999" stroke-width="0.6" stroke-linecap="butt"/>
<line x1="142.0" y1="510.8" x2="142.0" y2="512.1" stroke="#999" stroke-width="0.6" stroke-linecap="butt"/>
<line x1="145.2" y1="510.8" x2="145.2" y2="512.1" stroke="#999" stroke-width="0.6" stroke-linecap="butt"/>
<line x1="147.7" y1="510.8" x2="147.7" y2="512.1" stroke="#999" stroke-width="0.6" stroke-linecap="butt"/>
<line x1="149.7" y1="510.8" x2="149.7" y2="512.1" stroke="#999" stroke-width="0.6" stroke-linecap="butt"/>
<line x1="151.4" y1="510.8" x2="151.4" y2="512.1" stroke="#999" stroke-width="0.6" stroke-linecap="butt"/>
<line x1="152.8" y1="510.8" x2="152.8" y2="512.1" stroke="#999" stroke-width="0.6" stroke-linecap="butt"/>
<line x1="154.1" y1="510.8" x2="154.1" y2="512.1" stroke="#999" stroke-width="0.6" stroke-linecap="butt"/>
<line x1="155.3" y1="510.8" x2="155.3" y2="513.4" stroke="#333" stroke-width="0.9" stroke-linecap="butt"/>
<text x="121.5" y="463.4" font-family='"Liberation Sans", sans-serif' font-size="12.4" font-weight="bold" text-anchor="middle" fill="#000" >1.9%</text>
<text x="54.2" y="527.2" font-family='"Liberation Serif", serif' font-size="11" font-weight="bold" fill="#000" text-anchor="middle" textLength="9.2" lengthAdjust="spacingAndGlyphs">10</text>
<text x="60.5" y="522.8000000000001" font-family='"Liberation Serif", serif' font-size="6.8" font-weight="bold" fill="#000" text-anchor="middle">0</text>
<text x="78.8" y="527.2" font-family='"Liberation Serif", serif' font-size="11" font-weight="bold" fill="#000" text-anchor="middle" textLength="9.2" lengthAdjust="spacingAndGlyphs">10</text>
<text x="85.1" y="522.8000000000001" font-family='"Liberation Serif", serif' font-size="6.8" font-weight="bold" fill="#000" text-anchor="middle">1</text>
<text x="104.3" y="527.2" font-family='"Liberation Serif", serif' font-size="11" font-weight="bold" fill="#000" text-anchor="middle" textLength="9.2" lengthAdjust="spacingAndGlyphs">10</text>
<text x="110.6" y="522.8000000000001" font-family='"Liberation Serif", serif' font-size="6.8" font-weight="bold" fill="#000" text-anchor="middle">2</text>
<text x="129.0" y="527.2" font-family='"Liberation Serif", serif' font-size="11" font-weight="bold" fill="#000" text-anchor="middle" textLength="9.2" lengthAdjust="spacingAndGlyphs">10</text>
<text x="135.3" y="522.8000000000001" font-family='"Liberation Serif", serif' font-size="6.8" font-weight="bold" fill="#000" text-anchor="middle">3</text>
<text x="153.6" y="527.2" font-family='"Liberation Serif", serif' font-size="11" font-weight="bold" fill="#000" text-anchor="middle" textLength="9.2" lengthAdjust="spacingAndGlyphs">10</text>
<text x="159.9" y="522.8000000000001" font-family='"Liberation Serif", serif' font-size="6.8" font-weight="bold" fill="#000" text-anchor="middle">4</text>
<polygon points="191.2,509.7 191.2,508.5 194.2,507.5 197.1,506.2 199.0,503.2 200.7,499.8 201.9,496.1 202.9,491.9 204.2,488.0 205.0,484.8 205.7,481.1 206.3,477.9 207.0,474.8 207.7,471.4 208.0,467.7 208.6,464.5 209.2,460.5 209.7,456.9 210.1,453.4 210.6,450.0 210.8,446.2 211.2,441.8 211.8,438.2 211.9,434.3 212.3,430.0 212.9,425.9 213.5,421.7 214.6,417.0 214.8,413.1 215.2,408.8 216.4,408.3 217.0,413.4 218.0,418.2 218.4,422.3 218.7,425.7 218.9,429.5 219.2,433.5 219.4,437.4 219.7,441.8 220.0,446.0 220.4,450.0 220.7,453.7 221.2,457.6 221.4,461.4 221.8,465.0 222.1,469.0 222.7,472.3 223.1,476.3 223.3,479.8 223.9,483.2 224.6,486.8 225.2,490.1 226.1,494.0 227.2,497.8 228.5,501.0 231.4,504.6 236.0,506.5 240.6,507.1 245.5,507.6 250.0,507.8 254.0,507.9 258.0,508.2 261.9,508.4 266.1,508.6 270.0,508.5 274.0,508.8 278.1,508.5 282.3,508.9 286.4,509.0 290.5,508.7 294.5,508.7 298.7,508.9 298.7,509.7" fill="#c6c6c6" stroke="#9a9a9a" stroke-width="0.8" stroke-linejoin="round"/>
<polyline points="191.2,508.3 196.6,505.9 198.3,502.8 200.1,499.4 201.4,495.2 202.3,491.4 203.7,487.6 204.3,484.5 205.2,481.0 205.8,477.8 206.4,474.3 207.2,471.0 207.6,467.7 208.0,464.1 208.6,460.5 209.1,456.7 209.8,452.9 210.2,449.7 210.4,446.0 210.9,441.4 211.4,438.0 211.4,433.6 211.9,429.6 212.4,425.3 213.1,421.3 214.3,416.6 214.6,412.3 214.9,408.5 215.5,407.7 216.1,409.2 216.7,407.9 217.3,413.0 218.4,417.8 218.8,421.3 218.9,425.7 219.3,429.2 219.6,433.1 219.9,437.2 220.2,441.1 220.6,445.9 220.8,449.7 221.3,453.6 221.5,457.2 221.9,461.2 222.1,464.6 222.6,468.6 223.0,472.2 223.6,475.7 223.8,479.5 224.4,482.8 225.1,486.4 225.8,489.9 226.7,493.5 227.9,497.2 229.1,500.6 232.1,504.1 236.8,505.9 240.0,505.2 242.7,507.4 248.0,506.8 253.0,508.0 257.4,507.8 262.0,507.6 266.2,508.0 270.5,508.0 275.0,508.4 278.9,508.6 282.7,508.5 286.7,508.4 290.8,509.0 294.7,509.1 298.7,508.8" fill="none" stroke="#0a0a0a" stroke-width="1.5" stroke-linejoin="round" stroke-linecap="round"/>
<line x1="228.3" y1="478.6" x2="298.7" y2="478.6" stroke="#2a2a2a" stroke-width="1.4" stroke-linecap="butt"/>
<line x1="228.3" y1="476.0" x2="228.3" y2="481.20000000000005" stroke="#2a2a2a" stroke-width="1.2" stroke-linecap="butt"/>
<rect x="191.2" y="402.3" width="107.5" height="107.39999999999998" fill="none" stroke="#000" stroke-width="2.2"/>
<line x1="188.0" y1="406.8" x2="190.2" y2="406.8" stroke="#777" stroke-width="0.8" stroke-linecap="butt"/>
<line x1="188.0" y1="427.3" x2="190.2" y2="427.3" stroke="#777" stroke-width="0.8" stroke-linecap="butt"/>
<line x1="188.0" y1="447.8" x2="190.2" y2="447.8" stroke="#777" stroke-width="0.8" stroke-linecap="butt"/>
<line x1="188.0" y1="468.3" x2="190.2" y2="468.3" stroke="#777" stroke-width="0.8" stroke-linecap="butt"/>
<line x1="188.0" y1="488.8" x2="190.2" y2="488.8" stroke="#777" stroke-width="0.8" stroke-linecap="butt"/>
<line x1="191.6" y1="510.7" x2="191.6" y2="513.3" stroke="#333" stroke-width="0.9" stroke-linecap="butt"/>
<line x1="199.3" y1="510.7" x2="199.3" y2="512.0" stroke="#999" stroke-width="0.6" stroke-linecap="butt"/>
<line x1="203.8" y1="510.7" x2="203.8" y2="512.0" stroke="#999" stroke-width="0.6" stroke-linecap="butt"/>
<line x1="207.0" y1="510.7" x2="207.0" y2="512.0" stroke="#999" stroke-width="0.6" stroke-linecap="butt"/>
<line x1="209.4" y1="510.7" x2="209.4" y2="512.0" stroke="#999" stroke-width="0.6" stroke-linecap="butt"/>
<line x1="211.4" y1="510.7" x2="211.4" y2="512.0" stroke="#999" stroke-width="0.6" stroke-linecap="butt"/>
<line x1="213.2" y1="510.7" x2="213.2" y2="512.0" stroke="#999" stroke-width="0.6" stroke-linecap="butt"/>
<line x1="214.6" y1="510.7" x2="214.6" y2="512.0" stroke="#999" stroke-width="0.6" stroke-linecap="butt"/>
<line x1="215.9" y1="510.7" x2="215.9" y2="512.0" stroke="#999" stroke-width="0.6" stroke-linecap="butt"/>
<line x1="217.1" y1="510.7" x2="217.1" y2="513.3" stroke="#333" stroke-width="0.9" stroke-linecap="butt"/>
<line x1="224.8" y1="510.7" x2="224.8" y2="512.0" stroke="#999" stroke-width="0.6" stroke-linecap="butt"/>
<line x1="229.3" y1="510.7" x2="229.3" y2="512.0" stroke="#999" stroke-width="0.6" stroke-linecap="butt"/>
<line x1="232.5" y1="510.7" x2="232.5" y2="512.0" stroke="#999" stroke-width="0.6" stroke-linecap="butt"/>
<line x1="234.9" y1="510.7" x2="234.9" y2="512.0" stroke="#999" stroke-width="0.6" stroke-linecap="butt"/>
<line x1="236.9" y1="510.7" x2="236.9" y2="512.0" stroke="#999" stroke-width="0.6" stroke-linecap="butt"/>
<line x1="238.7" y1="510.7" x2="238.7" y2="512.0" stroke="#999" stroke-width="0.6" stroke-linecap="butt"/>
<line x1="240.1" y1="510.7" x2="240.1" y2="512.0" stroke="#999" stroke-width="0.6" stroke-linecap="butt"/>
<line x1="241.4" y1="510.7" x2="241.4" y2="512.0" stroke="#999" stroke-width="0.6" stroke-linecap="butt"/>
<line x1="242.6" y1="510.7" x2="242.6" y2="513.3" stroke="#333" stroke-width="0.9" stroke-linecap="butt"/>
<line x1="250.3" y1="510.7" x2="250.3" y2="512.0" stroke="#999" stroke-width="0.6" stroke-linecap="butt"/>
<line x1="254.8" y1="510.7" x2="254.8" y2="512.0" stroke="#999" stroke-width="0.6" stroke-linecap="butt"/>
<line x1="258.0" y1="510.7" x2="258.0" y2="512.0" stroke="#999" stroke-width="0.6" stroke-linecap="butt"/>
<line x1="260.4" y1="510.7" x2="260.4" y2="512.0" stroke="#999" stroke-width="0.6" stroke-linecap="butt"/>
<line x1="262.4" y1="510.7" x2="262.4" y2="512.0" stroke="#999" stroke-width="0.6" stroke-linecap="butt"/>
<line x1="264.2" y1="510.7" x2="264.2" y2="512.0" stroke="#999" stroke-width="0.6" stroke-linecap="butt"/>
<line x1="265.6" y1="510.7" x2="265.6" y2="512.0" stroke="#999" stroke-width="0.6" stroke-linecap="butt"/>
<line x1="266.9" y1="510.7" x2="266.9" y2="512.0" stroke="#999" stroke-width="0.6" stroke-linecap="butt"/>
<line x1="268.1" y1="510.7" x2="268.1" y2="513.3" stroke="#333" stroke-width="0.9" stroke-linecap="butt"/>
<line x1="275.8" y1="510.7" x2="275.8" y2="512.0" stroke="#999" stroke-width="0.6" stroke-linecap="butt"/>
<line x1="280.3" y1="510.7" x2="280.3" y2="512.0" stroke="#999" stroke-width="0.6" stroke-linecap="butt"/>
<line x1="283.5" y1="510.7" x2="283.5" y2="512.0" stroke="#999" stroke-width="0.6" stroke-linecap="butt"/>
<line x1="285.9" y1="510.7" x2="285.9" y2="512.0" stroke="#999" stroke-width="0.6" stroke-linecap="butt"/>
<line x1="287.9" y1="510.7" x2="287.9" y2="512.0" stroke="#999" stroke-width="0.6" stroke-linecap="butt"/>
<line x1="289.7" y1="510.7" x2="289.7" y2="512.0" stroke="#999" stroke-width="0.6" stroke-linecap="butt"/>
<line x1="291.1" y1="510.7" x2="291.1" y2="512.0" stroke="#999" stroke-width="0.6" stroke-linecap="butt"/>
<line x1="292.4" y1="510.7" x2="292.4" y2="512.0" stroke="#999" stroke-width="0.6" stroke-linecap="butt"/>
<line x1="293.6" y1="510.7" x2="293.6" y2="513.3" stroke="#333" stroke-width="0.9" stroke-linecap="butt"/>
<text x="264" y="462.5" font-family='"Liberation Sans", sans-serif' font-size="12.4" font-weight="bold" text-anchor="middle" fill="#000" >4.2%</text>
<text x="185.9" y="527.2" font-family='"Liberation Serif", serif' font-size="11" font-weight="bold" fill="#000" text-anchor="middle" textLength="9.2" lengthAdjust="spacingAndGlyphs">10</text>
<text x="192.2" y="522.8000000000001" font-family='"Liberation Serif", serif' font-size="6.8" font-weight="bold" fill="#000" text-anchor="middle">0</text>
<text x="210.3" y="527.2" font-family='"Liberation Serif", serif' font-size="11" font-weight="bold" fill="#000" text-anchor="middle" textLength="9.2" lengthAdjust="spacingAndGlyphs">10</text>
<text x="216.6" y="522.8000000000001" font-family='"Liberation Serif", serif' font-size="6.8" font-weight="bold" fill="#000" text-anchor="middle">1</text>
<text x="234.3" y="527.2" font-family='"Liberation Serif", serif' font-size="11" font-weight="bold" fill="#000" text-anchor="middle" textLength="9.2" lengthAdjust="spacingAndGlyphs">10</text>
<text x="240.6" y="522.8000000000001" font-family='"Liberation Serif", serif' font-size="6.8" font-weight="bold" fill="#000" text-anchor="middle">2</text>
<text x="258.3" y="527.2" font-family='"Liberation Serif", serif' font-size="11" font-weight="bold" fill="#000" text-anchor="middle" textLength="9.2" lengthAdjust="spacingAndGlyphs">10</text>
<text x="264.6" y="522.8000000000001" font-family='"Liberation Serif", serif' font-size="6.8" font-weight="bold" fill="#000" text-anchor="middle">3</text>
<text x="283.3" y="527.2" font-family='"Liberation Serif", serif' font-size="11" font-weight="bold" fill="#000" text-anchor="middle" textLength="9.2" lengthAdjust="spacingAndGlyphs">10</text>
<text x="289.6" y="522.8000000000001" font-family='"Liberation Serif", serif' font-size="6.8" font-weight="bold" fill="#000" text-anchor="middle">4</text>
<polygon points="325.8,509.7 325.8,506.8 331.6,505.3 333.3,501.1 335.1,497.0 336.9,493.5 337.8,490.1 338.7,486.4 339.8,482.8 340.6,478.5 341.3,474.6 341.9,470.4 342.8,466.3 343.4,462.5 344.1,458.5 344.5,454.7 345.2,451.3 345.8,447.3 346.3,443.7 346.7,439.9 347.1,435.9 347.7,432.3 348.1,428.4 348.4,424.4 348.8,420.7 349.1,417.2 349.5,413.5 349.9,409.5 351.1,408.0 352.3,409.5 352.8,414.0 353.0,419.0 353.4,423.7 353.6,427.9 354.2,432.0 354.5,436.3 354.9,440.9 355.2,445.0 355.5,449.0 355.8,453.5 356.2,457.6 356.6,462.2 357.0,466.3 357.5,470.0 358.0,473.7 358.5,477.5 358.9,481.6 359.4,485.2 360.1,488.8 361.0,492.2 361.7,495.9 363.1,499.1 364.7,501.8 368.2,504.7 371.9,505.4 375.3,506.5 379.5,507.0 383.5,507.1 387.5,507.2 391.8,507.5 395.9,507.6 400.0,508.0 404.2,508.3 408.4,508.2 412.6,508.6 416.9,508.2 421.1,508.5 425.3,508.5 429.5,508.7 433.7,508.9 433.7,509.7" fill="#c6c6c6" stroke="#9a9a9a" stroke-width="0.8" stroke-linejoin="round"/>
<polyline points="325.8,506.2 332.7,505.3 336.3,503.0 337.5,498.8 338.7,494.7 339.4,490.7 340.2,486.9 341.0,482.8 341.8,478.2 342.8,473.4 344.0,471.0 344.5,466.1 345.2,461.5 345.5,457.5 346.0,453.8 346.3,450.4 346.5,446.6 346.9,442.6 347.4,438.0 347.6,433.1 348.1,428.4 348.7,426.0 349.9,423.7 350.1,419.2 350.2,414.9 350.5,410.7 351.1,407.7 352.3,407.9 352.4,412.5 352.7,416.8 352.9,421.3 353.5,426.3 354.0,430.5 354.6,435.5 355.1,440.4 355.5,445.0 355.8,449.7 356.1,453.3 356.5,457.2 356.7,461.2 357.3,464.5 357.6,468.6 358.3,473.3 358.9,478.1 359.4,482.8 360.3,486.3 361.0,489.9 361.7,493.5 363.1,496.8 364.7,500.6 368.2,503.0 373.0,504.1 377.7,505.9 381.3,506.5 384.8,504.5 388.0,505.3 391.0,506.2 394.4,505.3 398.0,504.5 401.0,505.8 404.0,507.0 408.0,506.7 412.0,506.5 415.9,507.3 420.0,508.0 424.7,508.4 429.2,508.7 433.7,508.8" fill="none" stroke="#0a0a0a" stroke-width="1.5" stroke-linejoin="round" stroke-linecap="round"/>
<line x1="365" y1="477.3" x2="433.7" y2="477.3" stroke="#2a2a2a" stroke-width="1.4" stroke-linecap="butt"/>
<line x1="365" y1="474.7" x2="365" y2="479.90000000000003" stroke="#2a2a2a" stroke-width="1.2" stroke-linecap="butt"/>
<rect x="325.8" y="402.3" width="107.89999999999998" height="107.39999999999998" fill="none" stroke="#000" stroke-width="2.2"/>
<line x1="322.6" y1="406.8" x2="324.8" y2="406.8" stroke="#777" stroke-width="0.8" stroke-linecap="butt"/>
<line x1="322.6" y1="427.3" x2="324.8" y2="427.3" stroke="#777" stroke-width="0.8" stroke-linecap="butt"/>
<line x1="322.6" y1="447.8" x2="324.8" y2="447.8" stroke="#777" stroke-width="0.8" stroke-linecap="butt"/>
<line x1="322.6" y1="468.3" x2="324.8" y2="468.3" stroke="#777" stroke-width="0.8" stroke-linecap="butt"/>
<line x1="322.6" y1="488.8" x2="324.8" y2="488.8" stroke="#777" stroke-width="0.8" stroke-linecap="butt"/>
<line x1="326.2" y1="510.7" x2="326.2" y2="513.3" stroke="#333" stroke-width="0.9" stroke-linecap="butt"/>
<line x1="333.9" y1="510.7" x2="333.9" y2="512.0" stroke="#999" stroke-width="0.6" stroke-linecap="butt"/>
<line x1="338.4" y1="510.7" x2="338.4" y2="512.0" stroke="#999" stroke-width="0.6" stroke-linecap="butt"/>
<line x1="341.6" y1="510.7" x2="341.6" y2="512.0" stroke="#999" stroke-width="0.6" stroke-linecap="butt"/>
<line x1="344.1" y1="510.7" x2="344.1" y2="512.0" stroke="#999" stroke-width="0.6" stroke-linecap="butt"/>
<line x1="346.1" y1="510.7" x2="346.1" y2="512.0" stroke="#999" stroke-width="0.6" stroke-linecap="butt"/>
<line x1="347.8" y1="510.7" x2="347.8" y2="512.0" stroke="#999" stroke-width="0.6" stroke-linecap="butt"/>
<line x1="349.3" y1="510.7" x2="349.3" y2="512.0" stroke="#999" stroke-width="0.6" stroke-linecap="butt"/>
<line x1="350.6" y1="510.7" x2="350.6" y2="512.0" stroke="#999" stroke-width="0.6" stroke-linecap="butt"/>
<line x1="351.8" y1="510.7" x2="351.8" y2="513.3" stroke="#333" stroke-width="0.9" stroke-linecap="butt"/>
<line x1="359.5" y1="510.7" x2="359.5" y2="512.0" stroke="#999" stroke-width="0.6" stroke-linecap="butt"/>
<line x1="364.0" y1="510.7" x2="364.0" y2="512.0" stroke="#999" stroke-width="0.6" stroke-linecap="butt"/>
<line x1="367.2" y1="510.7" x2="367.2" y2="512.0" stroke="#999" stroke-width="0.6" stroke-linecap="butt"/>
<line x1="369.7" y1="510.7" x2="369.7" y2="512.0" stroke="#999" stroke-width="0.6" stroke-linecap="butt"/>
<line x1="371.7" y1="510.7" x2="371.7" y2="512.0" stroke="#999" stroke-width="0.6" stroke-linecap="butt"/>
<line x1="373.4" y1="510.7" x2="373.4" y2="512.0" stroke="#999" stroke-width="0.6" stroke-linecap="butt"/>
<line x1="374.9" y1="510.7" x2="374.9" y2="512.0" stroke="#999" stroke-width="0.6" stroke-linecap="butt"/>
<line x1="376.2" y1="510.7" x2="376.2" y2="512.0" stroke="#999" stroke-width="0.6" stroke-linecap="butt"/>
<line x1="377.4" y1="510.7" x2="377.4" y2="513.3" stroke="#333" stroke-width="0.9" stroke-linecap="butt"/>
<line x1="385.1" y1="510.7" x2="385.1" y2="512.0" stroke="#999" stroke-width="0.6" stroke-linecap="butt"/>
<line x1="389.6" y1="510.7" x2="389.6" y2="512.0" stroke="#999" stroke-width="0.6" stroke-linecap="butt"/>
<line x1="392.8" y1="510.7" x2="392.8" y2="512.0" stroke="#999" stroke-width="0.6" stroke-linecap="butt"/>
<line x1="395.3" y1="510.7" x2="395.3" y2="512.0" stroke="#999" stroke-width="0.6" stroke-linecap="butt"/>
<line x1="397.3" y1="510.7" x2="397.3" y2="512.0" stroke="#999" stroke-width="0.6" stroke-linecap="butt"/>
<line x1="399.0" y1="510.7" x2="399.0" y2="512.0" stroke="#999" stroke-width="0.6" stroke-linecap="butt"/>
<line x1="400.5" y1="510.7" x2="400.5" y2="512.0" stroke="#999" stroke-width="0.6" stroke-linecap="butt"/>
<line x1="401.8" y1="510.7" x2="401.8" y2="512.0" stroke="#999" stroke-width="0.6" stroke-linecap="butt"/>
<line x1="403.0" y1="510.7" x2="403.0" y2="513.3" stroke="#333" stroke-width="0.9" stroke-linecap="butt"/>
<line x1="410.7" y1="510.7" x2="410.7" y2="512.0" stroke="#999" stroke-width="0.6" stroke-linecap="butt"/>
<line x1="415.2" y1="510.7" x2="415.2" y2="512.0" stroke="#999" stroke-width="0.6" stroke-linecap="butt"/>
<line x1="418.4" y1="510.7" x2="418.4" y2="512.0" stroke="#999" stroke-width="0.6" stroke-linecap="butt"/>
<line x1="420.9" y1="510.7" x2="420.9" y2="512.0" stroke="#999" stroke-width="0.6" stroke-linecap="butt"/>
<line x1="422.9" y1="510.7" x2="422.9" y2="512.0" stroke="#999" stroke-width="0.6" stroke-linecap="butt"/>
<line x1="424.6" y1="510.7" x2="424.6" y2="512.0" stroke="#999" stroke-width="0.6" stroke-linecap="butt"/>
<line x1="426.1" y1="510.7" x2="426.1" y2="512.0" stroke="#999" stroke-width="0.6" stroke-linecap="butt"/>
<line x1="427.4" y1="510.7" x2="427.4" y2="512.0" stroke="#999" stroke-width="0.6" stroke-linecap="butt"/>
<line x1="428.6" y1="510.7" x2="428.6" y2="513.3" stroke="#333" stroke-width="0.9" stroke-linecap="butt"/>
<text x="395.8" y="462" font-family='"Liberation Sans", sans-serif' font-size="12.4" font-weight="bold" text-anchor="middle" fill="#000" >5.1%</text>
<text x="328.1" y="527.2" font-family='"Liberation Serif", serif' font-size="11" font-weight="bold" fill="#000" text-anchor="middle" textLength="9.2" lengthAdjust="spacingAndGlyphs">10</text>
<text x="334.4" y="522.8000000000001" font-family='"Liberation Serif", serif' font-size="6.8" font-weight="bold" fill="#000" text-anchor="middle">0</text>
<text x="352.7" y="527.2" font-family='"Liberation Serif", serif' font-size="11" font-weight="bold" fill="#000" text-anchor="middle" textLength="9.2" lengthAdjust="spacingAndGlyphs">10</text>
<text x="359.0" y="522.8000000000001" font-family='"Liberation Serif", serif' font-size="6.8" font-weight="bold" fill="#000" text-anchor="middle">1</text>
<text x="377.9" y="527.2" font-family='"Liberation Serif", serif' font-size="11" font-weight="bold" fill="#000" text-anchor="middle" textLength="9.2" lengthAdjust="spacingAndGlyphs">10</text>
<text x="384.2" y="522.8000000000001" font-family='"Liberation Serif", serif' font-size="6.8" font-weight="bold" fill="#000" text-anchor="middle">2</text>
<text x="401.9" y="527.2" font-family='"Liberation Serif", serif' font-size="11" font-weight="bold" fill="#000" text-anchor="middle" textLength="9.2" lengthAdjust="spacingAndGlyphs">10</text>
<text x="408.2" y="522.8000000000001" font-family='"Liberation Serif", serif' font-size="6.8" font-weight="bold" fill="#000" text-anchor="middle">3</text>
<text x="428.1" y="527.2" font-family='"Liberation Serif", serif' font-size="11" font-weight="bold" fill="#000" text-anchor="middle" textLength="9.2" lengthAdjust="spacingAndGlyphs">10</text>
<text x="434.4" y="522.8000000000001" font-family='"Liberation Serif", serif' font-size="6.8" font-weight="bold" fill="#000" text-anchor="middle">4</text>
<polygon points="53.4,659.1 53.4,658.5 58.9,658.3 64.5,658.0 67.9,655.1 70.7,652.3 71.9,649.0 72.8,645.4 74.2,642.3 75.3,638.5 75.6,634.7 76.1,631.7 77.0,627.2 77.7,624.8 78.1,620.7 78.5,617.0 78.7,612.5 79.3,608.7 79.4,605.0 79.7,601.5 80.3,598.1 80.8,593.9 81.1,590.1 81.5,586.0 82.0,582.2 82.8,579.6 83.2,575.8 83.4,571.7 83.9,567.9 84.5,565.0 86.2,561.4 87.5,558.0 89.2,561.5 90.5,564.5 91.6,568.3 92.3,571.0 92.5,574.1 93.6,578.0 94.2,581.4 94.1,585.2 95.1,588.2 95.4,592.0 95.8,595.6 96.9,599.9 97.0,603.1 97.6,606.6 98.5,611.0 99.3,614.2 99.7,618.1 100.1,622.1 100.7,625.6 101.5,629.0 102.0,632.8 102.9,636.5 104.1,641.0 104.6,644.5 106.8,648.2 109.2,651.0 112.1,652.4 115.6,654.2 118.5,655.5 122.8,657.4 127.7,658.0 131.6,657.8 136.0,658.0 139.8,657.8 143.7,658.6 147.8,658.8 152.0,658.7 156.4,658.9 160.2,659.0 160.2,659.1" fill="#c6c6c6" stroke="#9a9a9a" stroke-width="0.8" stroke-linejoin="round"/>
<polyline points="53.4,658.5 58.4,658.3 64.0,657.5 67.0,654.3 70.3,652.0 71.4,648.5 72.6,644.9 73.6,641.1 74.9,638.0 75.6,634.1 76.1,631.3 76.8,628.0 76.8,623.2 77.8,620.2 78.1,616.5 78.2,612.9 79.1,609.3 79.0,604.6 79.2,601.8 79.8,597.5 80.4,593.4 80.7,589.9 81.1,585.5 81.7,581.6 81.8,578.3 82.9,574.2 83.2,571.4 83.3,567.1 84.1,564.0 85.4,560.9 86.5,558.0 88.0,561.0 89.5,557.5 90.0,563.0 91.3,566.5 92.8,570.0 93.1,574.3 94.2,578.1 94.6,582.5 95.6,586.1 96.0,590.0 96.4,593.0 97.1,596.5 98.2,600.9 98.6,605.1 99.5,608.0 100.3,612.1 101.2,615.5 101.6,619.6 102.0,622.7 103.0,626.0 104.1,629.5 104.8,632.5 105.2,636.1 106.0,640.0 109.0,641.0 112.3,645.5 117.0,647.0 119.2,649.1 121.5,650.5 126.0,650.0 130.8,652.0 134.4,652.5 138.5,653.5 141.0,655.0 143.0,657.8 147.6,657.8 151.3,659.2 155.9,657.9 160.2,659.0" fill="none" stroke="#0a0a0a" stroke-width="1.5" stroke-linejoin="round" stroke-linecap="round"/>
<line x1="107" y1="616.3" x2="160.2" y2="616.3" stroke="#2a2a2a" stroke-width="1.4" stroke-linecap="butt"/>
<line x1="107" y1="613.6999999999999" x2="107" y2="618.9" stroke="#2a2a2a" stroke-width="1.2" stroke-linecap="butt"/>
<rect x="53.4" y="551.5" width="106.79999999999998" height="107.60000000000002" fill="none" stroke="#000" stroke-width="2.2"/>
<line x1="50.199999999999996" y1="556.0" x2="52.4" y2="556.0" stroke="#777" stroke-width="0.8" stroke-linecap="butt"/>
<line x1="50.199999999999996" y1="576.5" x2="52.4" y2="576.5" stroke="#777" stroke-width="0.8" stroke-linecap="butt"/>
<line x1="50.199999999999996" y1="597.0" x2="52.4" y2="597.0" stroke="#777" stroke-width="0.8" stroke-linecap="butt"/>
<line x1="50.199999999999996" y1="617.5" x2="52.4" y2="617.5" stroke="#777" stroke-width="0.8" stroke-linecap="butt"/>
<line x1="50.199999999999996" y1="638.0" x2="52.4" y2="638.0" stroke="#777" stroke-width="0.8" stroke-linecap="butt"/>
<line x1="53.8" y1="660.1" x2="53.8" y2="662.7" stroke="#333" stroke-width="0.9" stroke-linecap="butt"/>
<line x1="61.4" y1="660.1" x2="61.4" y2="661.4" stroke="#999" stroke-width="0.6" stroke-linecap="butt"/>
<line x1="65.9" y1="660.1" x2="65.9" y2="661.4" stroke="#999" stroke-width="0.6" stroke-linecap="butt"/>
<line x1="69.0" y1="660.1" x2="69.0" y2="661.4" stroke="#999" stroke-width="0.6" stroke-linecap="butt"/>
<line x1="71.5" y1="660.1" x2="71.5" y2="661.4" stroke="#999" stroke-width="0.6" stroke-linecap="butt"/>
<line x1="73.5" y1="660.1" x2="73.5" y2="661.4" stroke="#999" stroke-width="0.6" stroke-linecap="butt"/>
<line x1="75.2" y1="660.1" x2="75.2" y2="661.4" stroke="#999" stroke-width="0.6" stroke-linecap="butt"/>
<line x1="76.7" y1="660.1" x2="76.7" y2="661.4" stroke="#999" stroke-width="0.6" stroke-linecap="butt"/>
<line x1="78.0" y1="660.1" x2="78.0" y2="661.4" stroke="#999" stroke-width="0.6" stroke-linecap="butt"/>
<line x1="79.1" y1="660.1" x2="79.1" y2="662.7" stroke="#333" stroke-width="0.9" stroke-linecap="butt"/>
<line x1="86.7" y1="660.1" x2="86.7" y2="661.4" stroke="#999" stroke-width="0.6" stroke-linecap="butt"/>
<line x1="91.2" y1="660.1" x2="91.2" y2="661.4" stroke="#999" stroke-width="0.6" stroke-linecap="butt"/>
<line x1="94.4" y1="660.1" x2="94.4" y2="661.4" stroke="#999" stroke-width="0.6" stroke-linecap="butt"/>
<line x1="96.8" y1="660.1" x2="96.8" y2="661.4" stroke="#999" stroke-width="0.6" stroke-linecap="butt"/>
<line x1="98.8" y1="660.1" x2="98.8" y2="661.4" stroke="#999" stroke-width="0.6" stroke-linecap="butt"/>
<line x1="100.5" y1="660.1" x2="100.5" y2="661.4" stroke="#999" stroke-width="0.6" stroke-linecap="butt"/>
<line x1="102.0" y1="660.1" x2="102.0" y2="661.4" stroke="#999" stroke-width="0.6" stroke-linecap="butt"/>
<line x1="103.3" y1="660.1" x2="103.3" y2="661.4" stroke="#999" stroke-width="0.6" stroke-linecap="butt"/>
<line x1="104.4" y1="660.1" x2="104.4" y2="662.7" stroke="#333" stroke-width="0.9" stroke-linecap="butt"/>
<line x1="112.1" y1="660.1" x2="112.1" y2="661.4" stroke="#999" stroke-width="0.6" stroke-linecap="butt"/>
<line x1="116.5" y1="660.1" x2="116.5" y2="661.4" stroke="#999" stroke-width="0.6" stroke-linecap="butt"/>
<line x1="119.7" y1="660.1" x2="119.7" y2="661.4" stroke="#999" stroke-width="0.6" stroke-linecap="butt"/>
<line x1="122.2" y1="660.1" x2="122.2" y2="661.4" stroke="#999" stroke-width="0.6" stroke-linecap="butt"/>
<line x1="124.2" y1="660.1" x2="124.2" y2="661.4" stroke="#999" stroke-width="0.6" stroke-linecap="butt"/>
<line x1="125.9" y1="660.1" x2="125.9" y2="661.4" stroke="#999" stroke-width="0.6" stroke-linecap="butt"/>
<line x1="127.3" y1="660.1" x2="127.3" y2="661.4" stroke="#999" stroke-width="0.6" stroke-linecap="butt"/>
<line x1="128.6" y1="660.1" x2="128.6" y2="661.4" stroke="#999" stroke-width="0.6" stroke-linecap="butt"/>
<line x1="129.8" y1="660.1" x2="129.8" y2="662.7" stroke="#333" stroke-width="0.9" stroke-linecap="butt"/>
<line x1="137.4" y1="660.1" x2="137.4" y2="661.4" stroke="#999" stroke-width="0.6" stroke-linecap="butt"/>
<line x1="141.9" y1="660.1" x2="141.9" y2="661.4" stroke="#999" stroke-width="0.6" stroke-linecap="butt"/>
<line x1="145.0" y1="660.1" x2="145.0" y2="661.4" stroke="#999" stroke-width="0.6" stroke-linecap="butt"/>
<line x1="147.5" y1="660.1" x2="147.5" y2="661.4" stroke="#999" stroke-width="0.6" stroke-linecap="butt"/>
<line x1="149.5" y1="660.1" x2="149.5" y2="661.4" stroke="#999" stroke-width="0.6" stroke-linecap="butt"/>
<line x1="151.2" y1="660.1" x2="151.2" y2="661.4" stroke="#999" stroke-width="0.6" stroke-linecap="butt"/>
<line x1="152.6" y1="660.1" x2="152.6" y2="661.4" stroke="#999" stroke-width="0.6" stroke-linecap="butt"/>
<line x1="153.9" y1="660.1" x2="153.9" y2="661.4" stroke="#999" stroke-width="0.6" stroke-linecap="butt"/>
<line x1="155.1" y1="660.1" x2="155.1" y2="662.7" stroke="#333" stroke-width="0.9" stroke-linecap="butt"/>
<text x="127.9" y="602.3" font-family='"Liberation Sans", sans-serif' font-size="12.4" font-weight="bold" text-anchor="middle" fill="#000" >7.5%</text>
<text x="54.3" y="677.2" font-family='"Liberation Serif", serif' font-size="11" font-weight="bold" fill="#000" text-anchor="middle" textLength="9.2" lengthAdjust="spacingAndGlyphs">10</text>
<text x="60.6" y="672.8000000000001" font-family='"Liberation Serif", serif' font-size="6.8" font-weight="bold" fill="#000" text-anchor="middle">0</text>
<text x="78.8" y="677.2" font-family='"Liberation Serif", serif' font-size="11" font-weight="bold" fill="#000" text-anchor="middle" textLength="9.2" lengthAdjust="spacingAndGlyphs">10</text>
<text x="85.1" y="672.8000000000001" font-family='"Liberation Serif", serif' font-size="6.8" font-weight="bold" fill="#000" text-anchor="middle">1</text>
<text x="104.3" y="677.2" font-family='"Liberation Serif", serif' font-size="11" font-weight="bold" fill="#000" text-anchor="middle" textLength="9.2" lengthAdjust="spacingAndGlyphs">10</text>
<text x="110.6" y="672.8000000000001" font-family='"Liberation Serif", serif' font-size="6.8" font-weight="bold" fill="#000" text-anchor="middle">2</text>
<text x="129.0" y="677.2" font-family='"Liberation Serif", serif' font-size="11" font-weight="bold" fill="#000" text-anchor="middle" textLength="9.2" lengthAdjust="spacingAndGlyphs">10</text>
<text x="135.3" y="672.8000000000001" font-family='"Liberation Serif", serif' font-size="6.8" font-weight="bold" fill="#000" text-anchor="middle">3</text>
<text x="153.6" y="677.2" font-family='"Liberation Serif", serif' font-size="11" font-weight="bold" fill="#000" text-anchor="middle" textLength="9.2" lengthAdjust="spacingAndGlyphs">10</text>
<text x="159.9" y="672.8000000000001" font-family='"Liberation Serif", serif' font-size="6.8" font-weight="bold" fill="#000" text-anchor="middle">4</text>
<polygon points="191.2,658.8 191.2,658.5 195.3,658.4 199.9,658.3 204.0,657.5 205.9,655.0 207.9,652.8 210.2,651.0 211.3,646.7 212.1,643.0 212.8,639.5 214.1,635.9 214.8,632.0 215.0,627.7 215.6,624.5 216.6,620.4 217.1,616.3 217.8,612.4 218.0,608.0 218.3,604.9 218.8,601.2 219.3,597.2 219.6,593.6 220.0,589.7 220.8,587.0 221.0,583.0 221.9,579.5 222.2,575.9 222.6,572.1 223.4,567.8 224.0,564.5 224.9,561.0 226.2,557.5 227.5,560.2 229.2,563.0 229.9,566.3 230.2,569.8 230.9,572.9 231.5,576.4 232.3,580.0 232.6,583.9 233.8,587.3 234.3,591.7 234.5,594.3 235.4,598.5 236.2,602.6 236.7,605.5 237.2,610.1 238.1,613.7 238.5,617.0 238.9,621.2 239.6,624.7 240.1,628.7 241.0,632.1 241.5,635.5 242.4,638.7 243.8,641.7 244.8,644.9 246.0,647.7 249.0,649.5 252.1,652.1 255.4,654.0 259.3,654.6 263.3,656.2 267.7,657.0 271.6,657.3 275.2,657.4 279.2,657.2 282.9,658.5 286.8,657.9 290.8,658.5 294.6,658.5 298.7,658.8 298.7,658.8" fill="#c6c6c6" stroke="#9a9a9a" stroke-width="0.8" stroke-linejoin="round"/>
<polyline points="191.2,658.5 195.6,658.3 199.6,658.1 203.5,657.0 205.4,655.1 208.0,653.3 209.8,650.5 210.8,646.2 211.6,643.7 212.2,638.8 213.8,635.2 214.4,631.5 214.7,627.2 215.8,623.2 215.9,619.7 216.8,615.5 216.7,611.6 217.6,607.5 217.7,603.3 218.2,600.7 218.7,597.1 219.0,592.6 219.4,590.0 220.5,585.6 220.6,582.5 221.1,577.6 222.2,573.9 222.6,570.4 223.6,566.0 224.6,561.9 225.5,558.0 226.0,561.0 227.5,557.0 228.4,560.2 229.8,563.0 230.6,567.0 231.1,571.9 232.5,575.7 233.0,579.5 234.1,583.3 234.2,586.3 235.1,590.6 235.6,595.1 236.3,598.0 237.2,600.9 237.9,604.2 238.3,608.2 239.0,612.7 239.5,615.5 240.4,619.3 240.9,622.5 241.8,625.6 243.0,629.0 244.4,631.5 246.3,634.7 247.7,638.5 251.0,640.5 253.0,642.0 255.4,644.8 260.0,645.3 263.1,646.6 266.0,648.5 271.0,648.6 273.6,649.0 277.0,651.0 279.8,652.9 283.0,654.8 287.7,657.8 292.8,657.4 298.7,658.6" fill="none" stroke="#0a0a0a" stroke-width="1.5" stroke-linejoin="round" stroke-linecap="round"/>
<line x1="244.6" y1="614.8" x2="298.7" y2="614.8" stroke="#2a2a2a" stroke-width="1.4" stroke-linecap="butt"/>
<line x1="244.6" y1="612.1999999999999" x2="244.6" y2="617.4" stroke="#2a2a2a" stroke-width="1.2" stroke-linecap="butt"/>
<rect x="191.2" y="551.2" width="107.5" height="107.59999999999991" fill="none" stroke="#000" stroke-width="2.2"/>
<line x1="188.0" y1="555.7" x2="190.2" y2="555.7" stroke="#777" stroke-width="0.8" stroke-linecap="butt"/>
<line x1="188.0" y1="576.2" x2="190.2" y2="576.2" stroke="#777" stroke-width="0.8" stroke-linecap="butt"/>
<line x1="188.0" y1="596.7" x2="190.2" y2="596.7" stroke="#777" stroke-width="0.8" stroke-linecap="butt"/>
<line x1="188.0" y1="617.2" x2="190.2" y2="617.2" stroke="#777" stroke-width="0.8" stroke-linecap="butt"/>
<line x1="188.0" y1="637.7" x2="190.2" y2="637.7" stroke="#777" stroke-width="0.8" stroke-linecap="butt"/>
<line x1="191.6" y1="659.8" x2="191.6" y2="662.4" stroke="#333" stroke-width="0.9" stroke-linecap="butt"/>
<line x1="199.3" y1="659.8" x2="199.3" y2="661.0999999999999" stroke="#999" stroke-width="0.6" stroke-linecap="butt"/>
<line x1="203.8" y1="659.8" x2="203.8" y2="661.0999999999999" stroke="#999" stroke-width="0.6" stroke-linecap="butt"/>
<line x1="207.0" y1="659.8" x2="207.0" y2="661.0999999999999" stroke="#999" stroke-width="0.6" stroke-linecap="butt"/>
<line x1="209.4" y1="659.8" x2="209.4" y2="661.0999999999999" stroke="#999" stroke-width="0.6" stroke-linecap="butt"/>
<line x1="211.4" y1="659.8" x2="211.4" y2="661.0999999999999" stroke="#999" stroke-width="0.6" stroke-linecap="butt"/>
<line x1="213.2" y1="659.8" x2="213.2" y2="661.0999999999999" stroke="#999" stroke-width="0.6" stroke-linecap="butt"/>
<line x1="214.6" y1="659.8" x2="214.6" y2="661.0999999999999" stroke="#999" stroke-width="0.6" stroke-linecap="butt"/>
<line x1="215.9" y1="659.8" x2="215.9" y2="661.0999999999999" stroke="#999" stroke-width="0.6" stroke-linecap="butt"/>
<line x1="217.1" y1="659.8" x2="217.1" y2="662.4" stroke="#333" stroke-width="0.9" stroke-linecap="butt"/>
<line x1="224.8" y1="659.8" x2="224.8" y2="661.0999999999999" stroke="#999" stroke-width="0.6" stroke-linecap="butt"/>
<line x1="229.3" y1="659.8" x2="229.3" y2="661.0999999999999" stroke="#999" stroke-width="0.6" stroke-linecap="butt"/>
<line x1="232.5" y1="659.8" x2="232.5" y2="661.0999999999999" stroke="#999" stroke-width="0.6" stroke-linecap="butt"/>
<line x1="234.9" y1="659.8" x2="234.9" y2="661.0999999999999" stroke="#999" stroke-width="0.6" stroke-linecap="butt"/>
<line x1="236.9" y1="659.8" x2="236.9" y2="661.0999999999999" stroke="#999" stroke-width="0.6" stroke-linecap="butt"/>
<line x1="238.7" y1="659.8" x2="238.7" y2="661.0999999999999" stroke="#999" stroke-width="0.6" stroke-linecap="butt"/>
<line x1="240.1" y1="659.8" x2="240.1" y2="661.0999999999999" stroke="#999" stroke-width="0.6" stroke-linecap="butt"/>
<line x1="241.4" y1="659.8" x2="241.4" y2="661.0999999999999" stroke="#999" stroke-width="0.6" stroke-linecap="butt"/>
<line x1="242.6" y1="659.8" x2="242.6" y2="662.4" stroke="#333" stroke-width="0.9" stroke-linecap="butt"/>
<line x1="250.3" y1="659.8" x2="250.3" y2="661.0999999999999" stroke="#999" stroke-width="0.6" stroke-linecap="butt"/>
<line x1="254.8" y1="659.8" x2="254.8" y2="661.0999999999999" stroke="#999" stroke-width="0.6" stroke-linecap="butt"/>
<line x1="258.0" y1="659.8" x2="258.0" y2="661.0999999999999" stroke="#999" stroke-width="0.6" stroke-linecap="butt"/>
<line x1="260.4" y1="659.8" x2="260.4" y2="661.0999999999999" stroke="#999" stroke-width="0.6" stroke-linecap="butt"/>
<line x1="262.4" y1="659.8" x2="262.4" y2="661.0999999999999" stroke="#999" stroke-width="0.6" stroke-linecap="butt"/>
<line x1="264.2" y1="659.8" x2="264.2" y2="661.0999999999999" stroke="#999" stroke-width="0.6" stroke-linecap="butt"/>
<line x1="265.6" y1="659.8" x2="265.6" y2="661.0999999999999" stroke="#999" stroke-width="0.6" stroke-linecap="butt"/>
<line x1="266.9" y1="659.8" x2="266.9" y2="661.0999999999999" stroke="#999" stroke-width="0.6" stroke-linecap="butt"/>
<line x1="268.1" y1="659.8" x2="268.1" y2="662.4" stroke="#333" stroke-width="0.9" stroke-linecap="butt"/>
<line x1="275.8" y1="659.8" x2="275.8" y2="661.0999999999999" stroke="#999" stroke-width="0.6" stroke-linecap="butt"/>
<line x1="280.3" y1="659.8" x2="280.3" y2="661.0999999999999" stroke="#999" stroke-width="0.6" stroke-linecap="butt"/>
<line x1="283.5" y1="659.8" x2="283.5" y2="661.0999999999999" stroke="#999" stroke-width="0.6" stroke-linecap="butt"/>
<line x1="285.9" y1="659.8" x2="285.9" y2="661.0999999999999" stroke="#999" stroke-width="0.6" stroke-linecap="butt"/>
<line x1="287.9" y1="659.8" x2="287.9" y2="661.0999999999999" stroke="#999" stroke-width="0.6" stroke-linecap="butt"/>
<line x1="289.7" y1="659.8" x2="289.7" y2="661.0999999999999" stroke="#999" stroke-width="0.6" stroke-linecap="butt"/>
<line x1="291.1" y1="659.8" x2="291.1" y2="661.0999999999999" stroke="#999" stroke-width="0.6" stroke-linecap="butt"/>
<line x1="292.4" y1="659.8" x2="292.4" y2="661.0999999999999" stroke="#999" stroke-width="0.6" stroke-linecap="butt"/>
<line x1="293.6" y1="659.8" x2="293.6" y2="662.4" stroke="#333" stroke-width="0.9" stroke-linecap="butt"/>
<text x="268.8" y="602.2" font-family='"Liberation Sans", sans-serif' font-size="12.4" font-weight="bold" text-anchor="middle" fill="#000" >10.3%</text>
<text x="185.9" y="677.2" font-family='"Liberation Serif", serif' font-size="11" font-weight="bold" fill="#000" text-anchor="middle" textLength="9.2" lengthAdjust="spacingAndGlyphs">10</text>
<text x="192.2" y="672.8000000000001" font-family='"Liberation Serif", serif' font-size="6.8" font-weight="bold" fill="#000" text-anchor="middle">0</text>
<text x="210.3" y="677.2" font-family='"Liberation Serif", serif' font-size="11" font-weight="bold" fill="#000" text-anchor="middle" textLength="9.2" lengthAdjust="spacingAndGlyphs">10</text>
<text x="216.6" y="672.8000000000001" font-family='"Liberation Serif", serif' font-size="6.8" font-weight="bold" fill="#000" text-anchor="middle">1</text>
<text x="234.3" y="677.2" font-family='"Liberation Serif", serif' font-size="11" font-weight="bold" fill="#000" text-anchor="middle" textLength="9.2" lengthAdjust="spacingAndGlyphs">10</text>
<text x="240.6" y="672.8000000000001" font-family='"Liberation Serif", serif' font-size="6.8" font-weight="bold" fill="#000" text-anchor="middle">2</text>
<text x="258.3" y="677.2" font-family='"Liberation Serif", serif' font-size="11" font-weight="bold" fill="#000" text-anchor="middle" textLength="9.2" lengthAdjust="spacingAndGlyphs">10</text>
<text x="264.6" y="672.8000000000001" font-family='"Liberation Serif", serif' font-size="6.8" font-weight="bold" fill="#000" text-anchor="middle">3</text>
<text x="283.3" y="677.2" font-family='"Liberation Serif", serif' font-size="11" font-weight="bold" fill="#000" text-anchor="middle" textLength="9.2" lengthAdjust="spacingAndGlyphs">10</text>
<text x="289.6" y="672.8000000000001" font-family='"Liberation Serif", serif' font-size="6.8" font-weight="bold" fill="#000" text-anchor="middle">4</text>
<polygon points="325.8,658.9 325.8,658.5 330.0,658.7 334.4,657.9 338.3,658.0 340.5,656.3 342.4,653.5 344.3,652.0 344.9,648.6 346.3,645.1 347.1,641.9 348.3,639.4 349.0,635.5 349.5,632.1 349.8,627.7 350.8,622.8 351.2,619.2 351.9,614.7 352.1,611.0 352.6,607.9 353.0,603.6 353.1,600.8 353.8,597.3 354.0,593.5 354.9,590.1 355.1,586.0 355.6,582.1 356.4,578.8 357.4,575.3 358.3,571.0 359.2,567.7 360.5,563.3 361.3,560.0 361.5,557.5 362.6,561.4 363.6,564.0 364.6,567.5 365.1,571.6 365.6,575.0 366.5,578.7 366.8,582.5 367.7,586.0 368.6,589.5 368.8,593.9 369.6,596.8 369.9,601.1 370.8,604.5 371.2,608.0 371.7,611.8 372.4,615.0 372.5,619.5 373.6,621.8 373.8,626.0 374.6,630.1 375.3,634.0 376.5,637.7 377.0,641.5 378.1,643.9 379.2,646.7 380.6,650.0 383.2,651.1 386.6,653.0 389.2,654.5 392.5,656.2 395.6,656.3 398.5,658.0 402.7,657.6 406.5,658.7 410.3,658.2 413.9,657.9 418.1,658.2 422.0,658.4 425.7,658.5 429.9,658.9 433.7,659.0 433.7,658.9" fill="#c6c6c6" stroke="#9a9a9a" stroke-width="0.8" stroke-linejoin="round"/>
<polyline points="325.8,658.5 330.6,658.8 335.1,658.0 338.2,656.3 341.8,653.0 342.6,649.9 343.6,646.6 344.7,643.1 346.2,639.8 347.1,636.0 347.6,633.0 348.5,628.2 348.7,626.0 349.4,621.6 349.6,618.9 349.9,615.0 350.8,611.0 351.5,606.9 351.5,603.5 352.2,600.1 352.9,597.4 352.9,593.8 353.1,588.9 353.9,586.0 354.8,583.0 355.6,579.8 356.4,575.1 356.8,572.0 358.0,569.7 358.8,566.0 359.5,562.5 360.8,559.0 361.3,557.0 363.0,560.0 365.0,562.0 365.7,565.4 367.0,570.0 369.2,574.0 369.8,577.9 370.8,580.6 371.1,585.6 371.9,588.5 372.3,592.0 372.7,596.0 373.3,599.8 374.3,603.2 375.0,607.0 375.4,611.0 376.2,614.8 376.8,617.1 377.9,620.8 378.9,623.8 379.4,627.5 380.5,630.0 381.8,633.5 383.0,637.0 388.0,636.0 392.3,638.5 397.0,637.5 399.2,639.9 401.5,641.5 406.0,640.0 410.8,641.0 414.5,644.5 417.0,645.5 418.3,652.0 421.5,655.5 425.0,657.7 429.0,658.9 433.7,658.5" fill="none" stroke="#0a0a0a" stroke-width="1.5" stroke-linejoin="round" stroke-linecap="round"/>
<line x1="380.6" y1="616.3" x2="433.7" y2="616.3" stroke="#2a2a2a" stroke-width="1.4" stroke-linecap="butt"/>
<line x1="380.6" y1="613.6999999999999" x2="380.6" y2="618.9" stroke="#2a2a2a" stroke-width="1.2" stroke-linecap="butt"/>
<rect x="325.8" y="551.2" width="107.89999999999998" height="107.69999999999993" fill="none" stroke="#000" stroke-width="2.2"/>
<line x1="322.6" y1="555.7" x2="324.8" y2="555.7" stroke="#777" stroke-width="0.8" stroke-linecap="butt"/>
<line x1="322.6" y1="576.2" x2="324.8" y2="576.2" stroke="#777" stroke-width="0.8" stroke-linecap="butt"/>
<line x1="322.6" y1="596.7" x2="324.8" y2="596.7" stroke="#777" stroke-width="0.8" stroke-linecap="butt"/>
<line x1="322.6" y1="617.2" x2="324.8" y2="617.2" stroke="#777" stroke-width="0.8" stroke-linecap="butt"/>
<line x1="322.6" y1="637.7" x2="324.8" y2="637.7" stroke="#777" stroke-width="0.8" stroke-linecap="butt"/>
<line x1="326.2" y1="659.9" x2="326.2" y2="662.5" stroke="#333" stroke-width="0.9" stroke-linecap="butt"/>
<line x1="333.9" y1="659.9" x2="333.9" y2="661.1999999999999" stroke="#999" stroke-width="0.6" stroke-linecap="butt"/>
<line x1="338.4" y1="659.9" x2="338.4" y2="661.1999999999999" stroke="#999" stroke-width="0.6" stroke-linecap="butt"/>
<line x1="341.6" y1="659.9" x2="341.6" y2="661.1999999999999" stroke="#999" stroke-width="0.6" stroke-linecap="butt"/>
<line x1="344.1" y1="659.9" x2="344.1" y2="661.1999999999999" stroke="#999" stroke-width="0.6" stroke-linecap="butt"/>
<line x1="346.1" y1="659.9" x2="346.1" y2="661.1999999999999" stroke="#999" stroke-width="0.6" stroke-linecap="butt"/>
<line x1="347.8" y1="659.9" x2="347.8" y2="661.1999999999999" stroke="#999" stroke-width="0.6" stroke-linecap="butt"/>
<line x1="349.3" y1="659.9" x2="349.3" y2="661.1999999999999" stroke="#999" stroke-width="0.6" stroke-linecap="butt"/>
<line x1="350.6" y1="659.9" x2="350.6" y2="661.1999999999999" stroke="#999" stroke-width="0.6" stroke-linecap="butt"/>
<line x1="351.8" y1="659.9" x2="351.8" y2="662.5" stroke="#333" stroke-width="0.9" stroke-linecap="butt"/>
<line x1="359.5" y1="659.9" x2="359.5" y2="661.1999999999999" stroke="#999" stroke-width="0.6" stroke-linecap="butt"/>
<line x1="364.0" y1="659.9" x2="364.0" y2="661.1999999999999" stroke="#999" stroke-width="0.6" stroke-linecap="butt"/>
<line x1="367.2" y1="659.9" x2="367.2" y2="661.1999999999999" stroke="#999" stroke-width="0.6" stroke-linecap="butt"/>
<line x1="369.7" y1="659.9" x2="369.7" y2="661.1999999999999" stroke="#999" stroke-width="0.6" stroke-linecap="butt"/>
<line x1="371.7" y1="659.9" x2="371.7" y2="661.1999999999999" stroke="#999" stroke-width="0.6" stroke-linecap="butt"/>
<line x1="373.4" y1="659.9" x2="373.4" y2="661.1999999999999" stroke="#999" stroke-width="0.6" stroke-linecap="butt"/>
<line x1="374.9" y1="659.9" x2="374.9" y2="661.1999999999999" stroke="#999" stroke-width="0.6" stroke-linecap="butt"/>
<line x1="376.2" y1="659.9" x2="376.2" y2="661.1999999999999" stroke="#999" stroke-width="0.6" stroke-linecap="butt"/>
<line x1="377.4" y1="659.9" x2="377.4" y2="662.5" stroke="#333" stroke-width="0.9" stroke-linecap="butt"/>
<line x1="385.1" y1="659.9" x2="385.1" y2="661.1999999999999" stroke="#999" stroke-width="0.6" stroke-linecap="butt"/>
<line x1="389.6" y1="659.9" x2="389.6" y2="661.1999999999999" stroke="#999" stroke-width="0.6" stroke-linecap="butt"/>
<line x1="392.8" y1="659.9" x2="392.8" y2="661.1999999999999" stroke="#999" stroke-width="0.6" stroke-linecap="butt"/>
<line x1="395.3" y1="659.9" x2="395.3" y2="661.1999999999999" stroke="#999" stroke-width="0.6" stroke-linecap="butt"/>
<line x1="397.3" y1="659.9" x2="397.3" y2="661.1999999999999" stroke="#999" stroke-width="0.6" stroke-linecap="butt"/>
<line x1="399.0" y1="659.9" x2="399.0" y2="661.1999999999999" stroke="#999" stroke-width="0.6" stroke-linecap="butt"/>
<line x1="400.5" y1="659.9" x2="400.5" y2="661.1999999999999" stroke="#999" stroke-width="0.6" stroke-linecap="butt"/>
<line x1="401.8" y1="659.9" x2="401.8" y2="661.1999999999999" stroke="#999" stroke-width="0.6" stroke-linecap="butt"/>
<line x1="403.0" y1="659.9" x2="403.0" y2="662.5" stroke="#333" stroke-width="0.9" stroke-linecap="butt"/>
<line x1="410.7" y1="659.9" x2="410.7" y2="661.1999999999999" stroke="#999" stroke-width="0.6" stroke-linecap="butt"/>
<line x1="415.2" y1="659.9" x2="415.2" y2="661.1999999999999" stroke="#999" stroke-width="0.6" stroke-linecap="butt"/>
<line x1="418.4" y1="659.9" x2="418.4" y2="661.1999999999999" stroke="#999" stroke-width="0.6" stroke-linecap="butt"/>
<line x1="420.9" y1="659.9" x2="420.9" y2="661.1999999999999" stroke="#999" stroke-width="0.6" stroke-linecap="butt"/>
<line x1="422.9" y1="659.9" x2="422.9" y2="661.1999999999999" stroke="#999" stroke-width="0.6" stroke-linecap="butt"/>
<line x1="424.6" y1="659.9" x2="424.6" y2="661.1999999999999" stroke="#999" stroke-width="0.6" stroke-linecap="butt"/>
<line x1="426.1" y1="659.9" x2="426.1" y2="661.1999999999999" stroke="#999" stroke-width="0.6" stroke-linecap="butt"/>
<line x1="427.4" y1="659.9" x2="427.4" y2="661.1999999999999" stroke="#999" stroke-width="0.6" stroke-linecap="butt"/>
<line x1="428.6" y1="659.9" x2="428.6" y2="662.5" stroke="#333" stroke-width="0.9" stroke-linecap="butt"/>
<text x="403.3" y="604.3" font-family='"Liberation Sans", sans-serif' font-size="12.4" font-weight="bold" text-anchor="middle" fill="#000" >18.5%</text>
<text x="328.1" y="677.2" font-family='"Liberation Serif", serif' font-size="11" font-weight="bold" fill="#000" text-anchor="middle" textLength="9.2" lengthAdjust="spacingAndGlyphs">10</text>
<text x="334.4" y="672.8000000000001" font-family='"Liberation Serif", serif' font-size="6.8" font-weight="bold" fill="#000" text-anchor="middle">0</text>
<text x="352.7" y="677.2" font-family='"Liberation Serif", serif' font-size="11" font-weight="bold" fill="#000" text-anchor="middle" textLength="9.2" lengthAdjust="spacingAndGlyphs">10</text>
<text x="359.0" y="672.8000000000001" font-family='"Liberation Serif", serif' font-size="6.8" font-weight="bold" fill="#000" text-anchor="middle">1</text>
<text x="377.9" y="677.2" font-family='"Liberation Serif", serif' font-size="11" font-weight="bold" fill="#000" text-anchor="middle" textLength="9.2" lengthAdjust="spacingAndGlyphs">10</text>
<text x="384.2" y="672.8000000000001" font-family='"Liberation Serif", serif' font-size="6.8" font-weight="bold" fill="#000" text-anchor="middle">2</text>
<text x="401.9" y="677.2" font-family='"Liberation Serif", serif' font-size="11" font-weight="bold" fill="#000" text-anchor="middle" textLength="9.2" lengthAdjust="spacingAndGlyphs">10</text>
<text x="408.2" y="672.8000000000001" font-family='"Liberation Serif", serif' font-size="6.8" font-weight="bold" fill="#000" text-anchor="middle">3</text>
<text x="428.1" y="677.2" font-family='"Liberation Serif", serif' font-size="11" font-weight="bold" fill="#000" text-anchor="middle" textLength="9.2" lengthAdjust="spacingAndGlyphs">10</text>
<text x="434.4" y="672.8000000000001" font-family='"Liberation Serif", serif' font-size="6.8" font-weight="bold" fill="#000" text-anchor="middle">4</text>
<line x1="59" y1="705.3" x2="169.5" y2="705.3" stroke="#000" stroke-width="2.2" stroke-linecap="butt"/>
<polygon points="41.2,705.3 60.4,696.3 60.4,714.4" fill="#000"/>
<line x1="289.8" y1="705.3" x2="412" y2="705.3" stroke="#000" stroke-width="2.2" stroke-linecap="butt"/>
<polygon points="428.6,705.3 410.4,696.3 410.4,714.4" fill="#000"/>
<text x="231.4" y="708.6" font-family='"Liberation Sans", sans-serif' font-size="17" font-weight="bold" text-anchor="middle" fill="#000" >CD107 PE</text>
<text x="142.6" y="732" font-family='"Liberation Sans", sans-serif' font-size="15" fill="#000" textLength="174" lengthAdjust="spacingAndGlyphs">(in CD56<tspan font-size="9" dy="-5.5">+</tspan><tspan dy="5.5">/CD3</tspan><tspan font-size="9" dy="-5.5">-</tspan><tspan dy="5.5"> NK Cells)</tspan></text>
<text x="-2.1" y="782.9" font-family='"Liberation Sans", sans-serif' font-size="34.8" font-weight="bold" text-anchor="start" fill="#000" >D</text>
<text x="154.5" y="770.3" font-family='"Liberation Sans", sans-serif' font-size="15" font-weight="bold" text-anchor="middle" fill="#000" >PBMC</text>
<text transform="translate(35.6,856.2) rotate(-90)" x="0" y="0" font-family='"Liberation Sans", sans-serif' font-size="13.25" font-weight="bold" text-anchor="middle" fill="#000" stroke="#000" stroke-width="0.25">% CD107 Positive NK</text>
<line x1="63.0" y1="791.8" x2="63.0" y2="921.25" stroke="#000" stroke-width="1.6" stroke-linecap="butt"/>
<line x1="62.2" y1="920.5" x2="224.2" y2="920.5" stroke="#000" stroke-width="1.6" stroke-linecap="butt"/>
<line x1="59.8" y1="914.3" x2="63.0" y2="914.3" stroke="#000" stroke-width="1.4" stroke-linecap="butt"/>
<text x="59.3" y="917.5" font-family='"Liberation Sans", sans-serif' font-size="10" font-weight="bold" text-anchor="end" fill="#000" textLength="4.0" lengthAdjust="spacingAndGlyphs" stroke="#000" stroke-width="0.35">0</text>
<line x1="59.8" y1="883.8" x2="63.0" y2="883.8" stroke="#000" stroke-width="1.4" stroke-linecap="butt"/>
<text x="59.3" y="887.0" font-family='"Liberation Sans", sans-serif' font-size="10" font-weight="bold" text-anchor="end" fill="#000" textLength="4.0" lengthAdjust="spacingAndGlyphs" stroke="#000" stroke-width="0.35">5</text>
<line x1="59.8" y1="853.3" x2="63.0" y2="853.3" stroke="#000" stroke-width="1.4" stroke-linecap="butt"/>
<text x="59.3" y="856.5" font-family='"Liberation Sans", sans-serif' font-size="10" font-weight="bold" text-anchor="end" fill="#000" textLength="8.0" lengthAdjust="spacingAndGlyphs" stroke="#000" stroke-width="0.35">10</text>
<line x1="59.8" y1="822.8" x2="63.0" y2="822.8" stroke="#000" stroke-width="1.4" stroke-linecap="butt"/>
<text x="59.3" y="826.0" font-family='"Liberation Sans", sans-serif' font-size="10" font-weight="bold" text-anchor="end" fill="#000" textLength="8.0" lengthAdjust="spacingAndGlyphs" stroke="#000" stroke-width="0.35">15</text>
<line x1="59.8" y1="792.3" x2="63.0" y2="792.3" stroke="#000" stroke-width="1.4" stroke-linecap="butt"/>
<text x="59.3" y="795.5" font-family='"Liberation Sans", sans-serif' font-size="10" font-weight="bold" text-anchor="end" fill="#000" textLength="8.0" lengthAdjust="spacingAndGlyphs" stroke="#000" stroke-width="0.35">20</text>
<text x="91.6" y="938.3" font-family='"Liberation Sans", sans-serif' font-size="13.2" font-weight="bold" text-anchor="middle" fill="#000" >Uninf</text>
<text x="91.6" y="954.1" font-family='"Liberation Sans", sans-serif' font-size="13.2" font-weight="bold" text-anchor="middle" fill="#000" >CD4</text>
<text x="141.5" y="938.3" font-family='"Liberation Sans", sans-serif' font-size="13.2" font-weight="bold" text-anchor="middle" fill="#000" >Lab</text>
<text x="141.5" y="954.1" font-family='"Liberation Sans", sans-serif' font-size="13.2" font-weight="bold" text-anchor="middle" fill="#000" >Adapt</text>
<text x="142.4" y="969.9" font-family='"Liberation Sans", sans-serif' font-size="13.2" font-weight="bold" text-anchor="middle" fill="#000" >CD4</text>
<text x="201.3" y="938.3" font-family='"Liberation Sans", sans-serif' font-size="13.2" font-weight="bold" text-anchor="middle" fill="#000" >Primary</text>
<text x="200.9" y="954.1" font-family='"Liberation Sans", sans-serif' font-size="13.2" font-weight="bold" text-anchor="middle" fill="#000" >Isolate</text>
<text x="197.2" y="969.9" font-family='"Liberation Sans", sans-serif' font-size="13.2" font-weight="bold" text-anchor="middle" fill="#000" >CD4</text>
<line x1="71.4" y1="903.4" x2="108.4" y2="903.4" stroke="#000" stroke-width="2" stroke-linecap="butt"/>
<rect x="87.2" y="890.1" width="5.0" height="6.5" fill="#dcdcdc" stroke="#1e1e1e" stroke-width="1.3"/>
<rect x="95.3" y="895.0" width="5.0" height="6.5" fill="#dcdcdc" stroke="#1e1e1e" stroke-width="1.3"/>
<rect x="79.4" y="900.1" width="5.0" height="6.5" fill="#dcdcdc" stroke="#1e1e1e" stroke-width="1.3"/>
<rect x="87.2" y="900.1" width="5.0" height="6.5" fill="#dcdcdc" stroke="#1e1e1e" stroke-width="1.3"/>
<rect x="95.3" y="904.2" width="5.0" height="6.5" fill="#dcdcdc" stroke="#1e1e1e" stroke-width="1.3"/>
<rect x="87.2" y="910.8" width="5.0" height="6.5" fill="#dcdcdc" stroke="#1e1e1e" stroke-width="1.3"/>
<line x1="124.4" y1="900.4" x2="161.3" y2="900.4" stroke="#000" stroke-width="2" stroke-linecap="butt"/>
<polygon points="134.5,888.8 137.0,894.4 132.0,894.4" fill="#a6a6a6" stroke="#1e1e1e" stroke-width="1.35" stroke-linejoin="round"/>
<polygon points="142.4,885.9 144.9,891.5 139.9,891.5" fill="#a6a6a6" stroke="#1e1e1e" stroke-width="1.35" stroke-linejoin="round"/>
<polygon points="142.4,896.3 144.9,901.9 139.9,901.9" fill="#a6a6a6" stroke="#1e1e1e" stroke-width="1.35" stroke-linejoin="round"/>
<polygon points="134.5,902.9 137.0,908.5 132.0,908.5" fill="#a6a6a6" stroke="#1e1e1e" stroke-width="1.35" stroke-linejoin="round"/>
<polygon points="142.4,906.8 144.9,912.4 139.9,912.4" fill="#a6a6a6" stroke="#1e1e1e" stroke-width="1.35" stroke-linejoin="round"/>
<polygon points="150.3,902.9 152.8,908.5 147.8,908.5" fill="#a6a6a6" stroke="#1e1e1e" stroke-width="1.35" stroke-linejoin="round"/>
<line x1="177.7" y1="895.5" x2="214.3" y2="895.5" stroke="#000" stroke-width="2" stroke-linecap="butt"/>
<circle cx="188.1" cy="888.1" r="2.0" fill="#000"/>
<line x1="188.1" y1="884.6" x2="188.1" y2="891.6" stroke="#000" stroke-width="1.7" stroke-linecap="butt"/>
<line x1="185.5" y1="886.6" x2="190.7" y2="889.6" stroke="#000" stroke-width="1.7" stroke-linecap="butt"/>
<line x1="190.7" y1="886.6" x2="185.5" y2="889.6" stroke="#000" stroke-width="1.7" stroke-linecap="butt"/>
<circle cx="196.0" cy="890.4" r="2.0" fill="#000"/>
<line x1="196.0" y1="886.9" x2="196.0" y2="893.9" stroke="#000" stroke-width="1.7" stroke-linecap="butt"/>
<line x1="193.4" y1="888.9" x2="198.6" y2="891.9" stroke="#000" stroke-width="1.7" stroke-linecap="butt"/>
<line x1="198.6" y1="888.9" x2="193.4" y2="891.9" stroke="#000" stroke-width="1.7" stroke-linecap="butt"/>
<circle cx="203.9" cy="883.3" r="2.0" fill="#000"/>
<line x1="203.9" y1="879.8" x2="203.9" y2="886.8" stroke="#000" stroke-width="1.7" stroke-linecap="butt"/>
<line x1="201.3" y1="881.8" x2="206.5" y2="884.8" stroke="#000" stroke-width="1.7" stroke-linecap="butt"/>
<line x1="206.5" y1="881.8" x2="201.3" y2="884.8" stroke="#000" stroke-width="1.7" stroke-linecap="butt"/>
<circle cx="188.1" cy="902.6" r="2.0" fill="#000"/>
<line x1="188.1" y1="899.1" x2="188.1" y2="906.1" stroke="#000" stroke-width="1.7" stroke-linecap="butt"/>
<line x1="185.5" y1="901.1" x2="190.7" y2="904.1" stroke="#000" stroke-width="1.7" stroke-linecap="butt"/>
<line x1="190.7" y1="901.1" x2="185.5" y2="904.1" stroke="#000" stroke-width="1.7" stroke-linecap="butt"/>
<circle cx="196.0" cy="903.5" r="2.0" fill="#000"/>
<line x1="196.0" y1="900.0" x2="196.0" y2="907.0" stroke="#000" stroke-width="1.7" stroke-linecap="butt"/>
<line x1="193.4" y1="902.0" x2="198.6" y2="905.0" stroke="#000" stroke-width="1.7" stroke-linecap="butt"/>
<line x1="198.6" y1="902.0" x2="193.4" y2="905.0" stroke="#000" stroke-width="1.7" stroke-linecap="butt"/>
<circle cx="203.9" cy="903.2" r="2.0" fill="#000"/>
<line x1="203.9" y1="899.7" x2="203.9" y2="906.7" stroke="#000" stroke-width="1.7" stroke-linecap="butt"/>
<line x1="201.3" y1="901.7" x2="206.5" y2="904.7" stroke="#000" stroke-width="1.7" stroke-linecap="butt"/>
<line x1="206.5" y1="901.7" x2="201.3" y2="904.7" stroke="#000" stroke-width="1.7" stroke-linecap="butt"/>
<text x="392.2" y="769" font-family='"Liberation Sans", sans-serif' font-size="15.4" font-weight="bold" text-anchor="middle" fill="#000" >PBMC + CpG</text>
<text transform="translate(283,856.2) rotate(-90)" x="0" y="0" font-family='"Liberation Sans", sans-serif' font-size="13.25" font-weight="bold" text-anchor="middle" fill="#000" stroke="#000" stroke-width="0.25">% CD107 Positive NK</text>
<line x1="310.8" y1="791.7" x2="310.8" y2="921.15" stroke="#000" stroke-width="1.6" stroke-linecap="butt"/>
<line x1="310.0" y1="920.4" x2="471.5" y2="920.4" stroke="#000" stroke-width="1.6" stroke-linecap="butt"/>
<line x1="307.6" y1="920.4" x2="310.8" y2="920.4" stroke="#000" stroke-width="1.4" stroke-linecap="butt"/>
<text x="307.1" y="923.6" font-family='"Liberation Sans", sans-serif' font-size="10" font-weight="bold" text-anchor="end" fill="#000" textLength="4.0" lengthAdjust="spacingAndGlyphs" stroke="#000" stroke-width="0.35">0</text>
<line x1="307.6" y1="888.35" x2="310.8" y2="888.35" stroke="#000" stroke-width="1.4" stroke-linecap="butt"/>
<text x="307.1" y="891.5500000000001" font-family='"Liberation Sans", sans-serif' font-size="10" font-weight="bold" text-anchor="end" fill="#000" textLength="4.0" lengthAdjust="spacingAndGlyphs" stroke="#000" stroke-width="0.35">5</text>
<line x1="307.6" y1="856.3" x2="310.8" y2="856.3" stroke="#000" stroke-width="1.4" stroke-linecap="butt"/>
<text x="307.1" y="859.5" font-family='"Liberation Sans", sans-serif' font-size="10" font-weight="bold" text-anchor="end" fill="#000" textLength="8.0" lengthAdjust="spacingAndGlyphs" stroke="#000" stroke-width="0.35">10</text>
<line x1="307.6" y1="824.25" x2="310.8" y2="824.25" stroke="#000" stroke-width="1.4" stroke-linecap="butt"/>
<text x="307.1" y="827.45" font-family='"Liberation Sans", sans-serif' font-size="10" font-weight="bold" text-anchor="end" fill="#000" textLength="8.0" lengthAdjust="spacingAndGlyphs" stroke="#000" stroke-width="0.35">15</text>
<line x1="307.6" y1="792.2" x2="310.8" y2="792.2" stroke="#000" stroke-width="1.4" stroke-linecap="butt"/>
<text x="307.1" y="795.4000000000001" font-family='"Liberation Sans", sans-serif' font-size="10" font-weight="bold" text-anchor="end" fill="#000" textLength="8.0" lengthAdjust="spacingAndGlyphs" stroke="#000" stroke-width="0.35">20</text>
<text x="338" y="938.3" font-family='"Liberation Sans", sans-serif' font-size="13.2" font-weight="bold" text-anchor="middle" fill="#000" >Uninf</text>
<text x="337" y="954.1" font-family='"Liberation Sans", sans-serif' font-size="13.2" font-weight="bold" text-anchor="middle" fill="#000" >CD4</text>
<text x="390" y="938.3" font-family='"Liberation Sans", sans-serif' font-size="13.2" font-weight="bold" text-anchor="middle" fill="#000" >Lab</text>
<text x="390" y="954.1" font-family='"Liberation Sans", sans-serif' font-size="13.2" font-weight="bold" text-anchor="middle" fill="#000" >Adapt</text>
<text x="391.3" y="969.9" font-family='"Liberation Sans", sans-serif' font-size="13.2" font-weight="bold" text-anchor="middle" fill="#000" >CD4</text>
<text x="450.9" y="938.3" font-family='"Liberation Sans", sans-serif' font-size="13.2" font-weight="bold" text-anchor="middle" fill="#000" >Primary</text>
<text x="449.8" y="954.1" font-family='"Liberation Sans", sans-serif' font-size="13.2" font-weight="bold" text-anchor="middle" fill="#000" >Isolate</text>
<text x="446.2" y="969.9" font-family='"Liberation Sans", sans-serif' font-size="13.2" font-weight="bold" text-anchor="middle" fill="#000" >CD4</text>
<polyline points="330.9,793.8 330.9,786.8 456.9,786.8 456.9,793.8" fill="none" stroke="#000" stroke-width="2"/>
<polyline points="330.9,830.8 330.9,824.2 393.5,824.2 393.5,830.8" fill="none" stroke="#000" stroke-width="2"/>
<text x="391.5" y="805" font-family='"Liberation Sans", sans-serif' font-size="13.2" font-weight="bold" text-anchor="middle" fill="#000" >p=0.0017</text>
<text x="363.5" y="841.7" font-family='"Liberation Sans", sans-serif' font-size="13.2" font-weight="bold" text-anchor="middle" fill="#000" >ns</text>
<line x1="319.5" y1="891.2" x2="355.7" y2="891.2" stroke="#000" stroke-width="2" stroke-linecap="butt"/>
<rect x="327.5" y="869.4" width="5.0" height="6.5" fill="#dcdcdc" stroke="#1e1e1e" stroke-width="1.3"/>
<rect x="335.1" y="873.0" width="5.0" height="6.5" fill="#dcdcdc" stroke="#1e1e1e" stroke-width="1.3"/>
<rect x="327.5" y="894.2" width="5.0" height="6.5" fill="#dcdcdc" stroke="#1e1e1e" stroke-width="1.3"/>
<rect x="339.8" y="892.5" width="5.0" height="6.5" fill="#dcdcdc" stroke="#1e1e1e" stroke-width="1.3"/>
<rect x="335.1" y="899.8" width="5.0" height="6.5" fill="#dcdcdc" stroke="#1e1e1e" stroke-width="1.3"/>
<rect x="343.1" y="899.8" width="5.0" height="6.5" fill="#dcdcdc" stroke="#1e1e1e" stroke-width="1.3"/>
<line x1="372.5" y1="883" x2="409.2" y2="883" stroke="#000" stroke-width="2" stroke-linecap="butt"/>
<polygon points="390.8,850.5 393.3,856.1 388.3,856.1" fill="#a6a6a6" stroke="#1e1e1e" stroke-width="1.35" stroke-linejoin="round"/>
<polygon points="390.8,876.3 393.3,881.9 388.3,881.9" fill="#a6a6a6" stroke="#1e1e1e" stroke-width="1.35" stroke-linejoin="round"/>
<polygon points="382.6,886.7 385.1,892.3 380.1,892.3" fill="#a6a6a6" stroke="#1e1e1e" stroke-width="1.35" stroke-linejoin="round"/>
<polygon points="390.6,891.4 393.1,897.0 388.1,897.0" fill="#a6a6a6" stroke="#1e1e1e" stroke-width="1.35" stroke-linejoin="round"/>
<polygon points="395.0,886.5 397.5,892.1 392.5,892.1" fill="#a6a6a6" stroke="#1e1e1e" stroke-width="1.35" stroke-linejoin="round"/>
<polygon points="399.2,888.4 401.7,894.0 396.7,894.0" fill="#a6a6a6" stroke="#1e1e1e" stroke-width="1.35" stroke-linejoin="round"/>
<line x1="426.3" y1="850.8" x2="462.6" y2="850.8" stroke="#000" stroke-width="2" stroke-linecap="butt"/>
<circle cx="444.3" cy="801.3" r="2.0" fill="#000"/>
<line x1="444.3" y1="797.8" x2="444.3" y2="804.8" stroke="#000" stroke-width="1.7" stroke-linecap="butt"/>
<line x1="441.7" y1="799.8" x2="446.9" y2="802.8" stroke="#000" stroke-width="1.7" stroke-linecap="butt"/>
<line x1="446.9" y1="799.8" x2="441.7" y2="802.8" stroke="#000" stroke-width="1.7" stroke-linecap="butt"/>
<circle cx="444.3" cy="841.5" r="2.0" fill="#000"/>
<line x1="444.3" y1="838.0" x2="444.3" y2="845.0" stroke="#000" stroke-width="1.7" stroke-linecap="butt"/>
<line x1="441.7" y1="840.0" x2="446.9" y2="843.0" stroke="#000" stroke-width="1.7" stroke-linecap="butt"/>
<line x1="446.9" y1="840.0" x2="441.7" y2="843.0" stroke="#000" stroke-width="1.7" stroke-linecap="butt"/>
<circle cx="435.5" cy="860.8" r="2.0" fill="#000"/>
<line x1="435.5" y1="857.3" x2="435.5" y2="864.3" stroke="#000" stroke-width="1.7" stroke-linecap="butt"/>
<line x1="432.9" y1="859.3" x2="438.1" y2="862.3" stroke="#000" stroke-width="1.7" stroke-linecap="butt"/>
<line x1="438.1" y1="859.3" x2="432.9" y2="862.3" stroke="#000" stroke-width="1.7" stroke-linecap="butt"/>
<circle cx="443.8" cy="862.8" r="2.0" fill="#000"/>
<line x1="443.8" y1="859.3" x2="443.8" y2="866.3" stroke="#000" stroke-width="1.7" stroke-linecap="butt"/>
<line x1="441.2" y1="861.3" x2="446.4" y2="864.3" stroke="#000" stroke-width="1.7" stroke-linecap="butt"/>
<line x1="446.4" y1="861.3" x2="441.2" y2="864.3" stroke="#000" stroke-width="1.7" stroke-linecap="butt"/>
<circle cx="452.6" cy="857.3" r="2.0" fill="#000"/>
<line x1="452.6" y1="853.8" x2="452.6" y2="860.8" stroke="#000" stroke-width="1.7" stroke-linecap="butt"/>
<line x1="450.0" y1="855.8" x2="455.2" y2="858.8" stroke="#000" stroke-width="1.7" stroke-linecap="butt"/>
<line x1="455.2" y1="855.8" x2="450.0" y2="858.8" stroke="#000" stroke-width="1.7" stroke-linecap="butt"/>
<circle cx="444.0" cy="879.4" r="2.0" fill="#000"/>
<line x1="444.0" y1="875.9" x2="444.0" y2="882.9" stroke="#000" stroke-width="1.7" stroke-linecap="butt"/>
<line x1="441.4" y1="877.9" x2="446.6" y2="880.9" stroke="#000" stroke-width="1.7" stroke-linecap="butt"/>
<line x1="446.6" y1="877.9" x2="441.4" y2="880.9" stroke="#000" stroke-width="1.7" stroke-linecap="butt"/>
</svg>
</body></html>
